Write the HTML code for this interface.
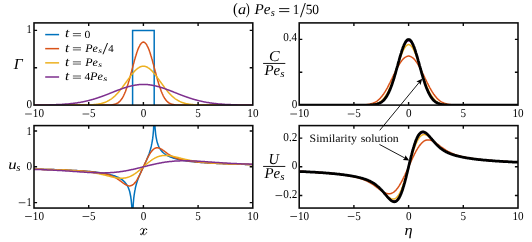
<!DOCTYPE html>
<html><head><meta charset="utf-8"><title>fig</title><style>html,body{margin:0;padding:0;background:#fff;}svg{display:block;will-change:transform;}text{font-family:"Liberation Serif",serif;text-rendering:geometricPrecision;}</style></head><body>
<svg width="532" height="242" viewBox="0 0 532 242">
<defs>
<clipPath id="c0"><rect x="34.0" y="22.9" width="218.80" height="82.20"/></clipPath>
<clipPath id="c1"><rect x="299.2" y="22.9" width="218.80" height="82.20"/></clipPath>
<clipPath id="c2"><rect x="34.0" y="125.6" width="218.80" height="82.45"/></clipPath>
<clipPath id="c3"><rect x="299.2" y="125.6" width="218.80" height="82.45"/></clipPath>
</defs>
<rect width="532" height="242" fill="#fff"/>
<g clip-path="url(#c0)" fill="none" stroke-linejoin="round">
<path d="M132.6,105.1L132.6,30.4L154.2,30.4L154.2,105.1" stroke="#0072BD" stroke-width="1.5" stroke-linejoin="miter"/>
<path d="M34,105.1L34.4,105.1L34.9,105.1L35.3,105.1L35.8,105.1L36.2,105.1L36.6,105.1L37.1,105.1L37.5,105.1L37.9,105.1L38.4,105.1L38.8,105.1L39.3,105.1L39.7,105.1L40.1,105.1L40.6,105.1L41,105.1L41.4,105.1L41.9,105.1L42.3,105.1L42.8,105.1L43.2,105.1L43.6,105.1L44.1,105.1L44.5,105.1L44.9,105.1L45.4,105.1L45.8,105.1L46.3,105.1L46.7,105.1L47.1,105.1L47.6,105.1L48,105.1L48.4,105.1L48.9,105.1L49.3,105.1L49.8,105.1L50.2,105.1L50.6,105.1L51.1,105.1L51.5,105.1L51.9,105.1L52.4,105.1L52.8,105.1L53.3,105.1L53.7,105.1L54.1,105.1L54.6,105.1L55,105.1L55.4,105.1L55.9,105.1L56.3,105.1L56.8,105.1L57.2,105.1L57.6,105.1L58.1,105.1L58.5,105.1L58.9,105.1L59.4,105.1L59.8,105.1L60.3,105.1L60.7,105.1L61.1,105.1L61.6,105.1L62,105.1L62.4,105.1L62.9,105.1L63.3,105.1L63.8,105.1L64.2,105.1L64.6,105.1L65.1,105.1L65.5,105.1L65.9,105.1L66.4,105.1L66.8,105.1L67.3,105.1L67.7,105.1L68.1,105.1L68.6,105.1L69,105.1L69.4,105.1L69.9,105.1L70.3,105.1L70.8,105.1L71.2,105.1L71.6,105.1L72.1,105.1L72.5,105.1L72.9,105.1L73.4,105.1L73.8,105.1L74.3,105.1L74.7,105.1L75.1,105.1L75.6,105.1L76,105.1L76.4,105.1L76.9,105.1L77.3,105.1L77.8,105.1L78.2,105.1L78.6,105.1L79.1,105.1L79.5,105.1L79.9,105.1L80.4,105.1L80.8,105.1L81.3,105.1L81.7,105.1L82.1,105.1L82.6,105.1L83,105.1L83.4,105.1L83.9,105.1L84.3,105.1L84.8,105.1L85.2,105.1L85.6,105.1L86.1,105.1L86.5,105.1L86.9,105.1L87.4,105.1L87.8,105.1L88.3,105.1L88.7,105.1L89.1,105.1L89.6,105.1L90,105.1L90.5,105.1L90.9,105.1L91.3,105.1L91.8,105.1L92.2,105.1L92.6,105.1L93.1,105.1L93.5,105.1L94,105.1L94.4,105.1L94.8,105.1L95.3,105.1L95.7,105.1L96.1,105.1L96.6,105.1L97,105.1L97.5,105.1L97.9,105.1L98.3,105.1L98.8,105.1L99.2,105.1L99.6,105.1L100.1,105.1L100.5,105.1L101,105.1L101.4,105.1L101.8,105.1L102.3,105.1L102.7,105.1L103.1,105.1L103.6,105.1L104,105.1L104.5,105.1L104.9,105.1L105.3,105.1L105.8,105.1L106.2,105.1L106.6,105.1L107.1,105.1L107.5,105.1L108,105L108.4,105L108.8,105L109.3,105L109.7,105L110.1,105L110.6,104.9L111,104.9L111.5,104.9L111.9,104.8L112.3,104.8L112.8,104.7L113.2,104.6L113.6,104.5L114.1,104.4L114.5,104.3L115,104.2L115.4,104.1L115.8,103.9L116.3,103.7L116.7,103.5L117.1,103.3L117.6,103.1L118,102.8L118.5,102.5L118.9,102.1L119.3,101.7L119.8,101.3L120.2,100.9L120.6,100.4L121.1,99.8L121.5,99.2L122,98.6L122.4,97.9L122.8,97.1L123.3,96.3L123.7,95.5L124.1,94.5L124.6,93.6L125,92.5L125.5,91.5L125.9,90.3L126.3,89.1L126.8,87.8L127.2,86.5L127.6,85.2L128.1,83.8L128.5,82.3L129,80.8L129.4,79.3L129.8,77.7L130.3,76.1L130.7,74.5L131.1,72.9L131.6,71.2L132,69.6L132.5,67.9L132.9,66.3L133.3,64.6L133.8,63L134.2,61.4L134.6,59.8L135.1,58.3L135.5,56.8L136,55.3L136.4,54L136.8,52.6L137.3,51.3L137.7,50.1L138.1,49L138.6,47.9L139,47L139.5,46.1L139.9,45.2L140.3,44.5L140.8,43.9L141.2,43.4L141.6,42.9L142.1,42.6L142.5,42.3L143,42.2L143.4,42.1L143.8,42.2L144.3,42.3L144.7,42.6L145.2,42.9L145.6,43.4L146,43.9L146.5,44.5L146.9,45.2L147.3,46.1L147.8,47L148.2,47.9L148.7,49L149.1,50.1L149.5,51.3L150,52.6L150.4,54L150.8,55.3L151.3,56.8L151.7,58.3L152.2,59.8L152.6,61.4L153,63L153.5,64.6L153.9,66.3L154.3,67.9L154.8,69.6L155.2,71.2L155.7,72.9L156.1,74.5L156.5,76.1L157,77.7L157.4,79.3L157.8,80.8L158.3,82.3L158.7,83.8L159.2,85.2L159.6,86.5L160,87.8L160.5,89.1L160.9,90.3L161.3,91.5L161.8,92.5L162.2,93.6L162.7,94.5L163.1,95.5L163.5,96.3L164,97.1L164.4,97.9L164.8,98.6L165.3,99.2L165.7,99.8L166.2,100.4L166.6,100.9L167,101.3L167.5,101.7L167.9,102.1L168.3,102.5L168.8,102.8L169.2,103.1L169.7,103.3L170.1,103.5L170.5,103.7L171,103.9L171.4,104.1L171.8,104.2L172.3,104.3L172.7,104.4L173.2,104.5L173.6,104.6L174,104.7L174.5,104.8L174.9,104.8L175.3,104.9L175.8,104.9L176.2,104.9L176.7,105L177.1,105L177.5,105L178,105L178.4,105L178.8,105L179.3,105.1L179.7,105.1L180.2,105.1L180.6,105.1L181,105.1L181.5,105.1L181.9,105.1L182.3,105.1L182.8,105.1L183.2,105.1L183.7,105.1L184.1,105.1L184.5,105.1L185,105.1L185.4,105.1L185.8,105.1L186.3,105.1L186.7,105.1L187.2,105.1L187.6,105.1L188,105.1L188.5,105.1L188.9,105.1L189.3,105.1L189.8,105.1L190.2,105.1L190.7,105.1L191.1,105.1L191.5,105.1L192,105.1L192.4,105.1L192.8,105.1L193.3,105.1L193.7,105.1L194.2,105.1L194.6,105.1L195,105.1L195.5,105.1L195.9,105.1L196.3,105.1L196.8,105.1L197.2,105.1L197.7,105.1L198.1,105.1L198.5,105.1L199,105.1L199.4,105.1L199.9,105.1L200.3,105.1L200.7,105.1L201.2,105.1L201.6,105.1L202,105.1L202.5,105.1L202.9,105.1L203.4,105.1L203.8,105.1L204.2,105.1L204.7,105.1L205.1,105.1L205.5,105.1L206,105.1L206.4,105.1L206.9,105.1L207.3,105.1L207.7,105.1L208.2,105.1L208.6,105.1L209,105.1L209.5,105.1L209.9,105.1L210.4,105.1L210.8,105.1L211.2,105.1L211.7,105.1L212.1,105.1L212.5,105.1L213,105.1L213.4,105.1L213.9,105.1L214.3,105.1L214.7,105.1L215.2,105.1L215.6,105.1L216,105.1L216.5,105.1L216.9,105.1L217.4,105.1L217.8,105.1L218.2,105.1L218.7,105.1L219.1,105.1L219.5,105.1L220,105.1L220.4,105.1L220.9,105.1L221.3,105.1L221.7,105.1L222.2,105.1L222.6,105.1L223,105.1L223.5,105.1L223.9,105.1L224.4,105.1L224.8,105.1L225.2,105.1L225.7,105.1L226.1,105.1L226.5,105.1L227,105.1L227.4,105.1L227.9,105.1L228.3,105.1L228.7,105.1L229.2,105.1L229.6,105.1L230,105.1L230.5,105.1L230.9,105.1L231.4,105.1L231.8,105.1L232.2,105.1L232.7,105.1L233.1,105.1L233.5,105.1L234,105.1L234.4,105.1L234.9,105.1L235.3,105.1L235.7,105.1L236.2,105.1L236.6,105.1L237,105.1L237.5,105.1L237.9,105.1L238.4,105.1L238.8,105.1L239.2,105.1L239.7,105.1L240.1,105.1L240.5,105.1L241,105.1L241.4,105.1L241.9,105.1L242.3,105.1L242.7,105.1L243.2,105.1L243.6,105.1L244,105.1L244.5,105.1L244.9,105.1L245.4,105.1L245.8,105.1L246.2,105.1L246.7,105.1L247.1,105.1L247.5,105.1L248,105.1L248.4,105.1L248.9,105.1L249.3,105.1L249.7,105.1L250.2,105.1L250.6,105.1L251,105.1L251.5,105.1L251.9,105.1L252.4,105.1L252.8,105.1" stroke="#D95319" stroke-width="1.5"/>
<path d="M34,105.1L34.4,105.1L34.9,105.1L35.3,105.1L35.8,105.1L36.2,105.1L36.6,105.1L37.1,105.1L37.5,105.1L37.9,105.1L38.4,105.1L38.8,105.1L39.3,105.1L39.7,105.1L40.1,105.1L40.6,105.1L41,105.1L41.4,105.1L41.9,105.1L42.3,105.1L42.8,105.1L43.2,105.1L43.6,105.1L44.1,105.1L44.5,105.1L44.9,105.1L45.4,105.1L45.8,105.1L46.3,105.1L46.7,105.1L47.1,105.1L47.6,105.1L48,105.1L48.4,105.1L48.9,105.1L49.3,105.1L49.8,105.1L50.2,105.1L50.6,105.1L51.1,105.1L51.5,105.1L51.9,105.1L52.4,105.1L52.8,105.1L53.3,105.1L53.7,105.1L54.1,105.1L54.6,105.1L55,105.1L55.4,105.1L55.9,105.1L56.3,105.1L56.8,105.1L57.2,105.1L57.6,105.1L58.1,105.1L58.5,105.1L58.9,105.1L59.4,105.1L59.8,105.1L60.3,105.1L60.7,105.1L61.1,105.1L61.6,105.1L62,105.1L62.4,105.1L62.9,105.1L63.3,105.1L63.8,105.1L64.2,105.1L64.6,105.1L65.1,105.1L65.5,105.1L65.9,105.1L66.4,105.1L66.8,105.1L67.3,105.1L67.7,105.1L68.1,105.1L68.6,105.1L69,105.1L69.4,105.1L69.9,105.1L70.3,105.1L70.8,105.1L71.2,105.1L71.6,105.1L72.1,105.1L72.5,105.1L72.9,105.1L73.4,105.1L73.8,105.1L74.3,105.1L74.7,105.1L75.1,105.1L75.6,105.1L76,105.1L76.4,105.1L76.9,105.1L77.3,105.1L77.8,105.1L78.2,105.1L78.6,105.1L79.1,105.1L79.5,105.1L79.9,105.1L80.4,105.1L80.8,105.1L81.3,105.1L81.7,105.1L82.1,105.1L82.6,105.1L83,105L83.4,105L83.9,105L84.3,105L84.8,105L85.2,105L85.6,105L86.1,105L86.5,105L86.9,105L87.4,105L87.8,105L88.3,104.9L88.7,104.9L89.1,104.9L89.6,104.9L90,104.9L90.5,104.9L90.9,104.8L91.3,104.8L91.8,104.8L92.2,104.8L92.6,104.7L93.1,104.7L93.5,104.7L94,104.6L94.4,104.6L94.8,104.5L95.3,104.5L95.7,104.5L96.1,104.4L96.6,104.3L97,104.3L97.5,104.2L97.9,104.2L98.3,104.1L98.8,104L99.2,103.9L99.6,103.8L100.1,103.8L100.5,103.7L101,103.6L101.4,103.5L101.8,103.3L102.3,103.2L102.7,103.1L103.1,103L103.6,102.8L104,102.7L104.5,102.5L104.9,102.4L105.3,102.2L105.8,102L106.2,101.8L106.6,101.6L107.1,101.4L107.5,101.2L108,101L108.4,100.7L108.8,100.5L109.3,100.2L109.7,100L110.1,99.7L110.6,99.4L111,99.1L111.5,98.8L111.9,98.5L112.3,98.1L112.8,97.8L113.2,97.4L113.6,97.1L114.1,96.7L114.5,96.3L115,95.9L115.4,95.5L115.8,95L116.3,94.6L116.7,94.1L117.1,93.7L117.6,93.2L118,92.7L118.5,92.2L118.9,91.7L119.3,91.2L119.8,90.7L120.2,90.1L120.6,89.6L121.1,89L121.5,88.5L122,87.9L122.4,87.3L122.8,86.7L123.3,86.1L123.7,85.5L124.1,84.9L124.6,84.3L125,83.7L125.5,83.1L125.9,82.5L126.3,81.9L126.8,81.2L127.2,80.6L127.6,80L128.1,79.4L128.5,78.8L129,78.2L129.4,77.6L129.8,77L130.3,76.4L130.7,75.8L131.1,75.3L131.6,74.7L132,74.2L132.5,73.6L132.9,73.1L133.3,72.6L133.8,72.1L134.2,71.6L134.6,71.1L135.1,70.7L135.5,70.2L136,69.8L136.4,69.4L136.8,69.1L137.3,68.7L137.7,68.4L138.1,68.1L138.6,67.8L139,67.5L139.5,67.3L139.9,67L140.3,66.8L140.8,66.7L141.2,66.5L141.6,66.4L142.1,66.3L142.5,66.3L143,66.2L143.4,66.2L143.8,66.2L144.3,66.3L144.7,66.3L145.2,66.4L145.6,66.5L146,66.7L146.5,66.8L146.9,67L147.3,67.3L147.8,67.5L148.2,67.8L148.7,68.1L149.1,68.4L149.5,68.7L150,69.1L150.4,69.4L150.8,69.8L151.3,70.2L151.7,70.7L152.2,71.1L152.6,71.6L153,72.1L153.5,72.6L153.9,73.1L154.3,73.6L154.8,74.2L155.2,74.7L155.7,75.3L156.1,75.8L156.5,76.4L157,77L157.4,77.6L157.8,78.2L158.3,78.8L158.7,79.4L159.2,80L159.6,80.6L160,81.2L160.5,81.9L160.9,82.5L161.3,83.1L161.8,83.7L162.2,84.3L162.7,84.9L163.1,85.5L163.5,86.1L164,86.7L164.4,87.3L164.8,87.9L165.3,88.5L165.7,89L166.2,89.6L166.6,90.1L167,90.7L167.5,91.2L167.9,91.7L168.3,92.2L168.8,92.7L169.2,93.2L169.7,93.7L170.1,94.1L170.5,94.6L171,95L171.4,95.5L171.8,95.9L172.3,96.3L172.7,96.7L173.2,97.1L173.6,97.4L174,97.8L174.5,98.1L174.9,98.5L175.3,98.8L175.8,99.1L176.2,99.4L176.7,99.7L177.1,100L177.5,100.2L178,100.5L178.4,100.7L178.8,101L179.3,101.2L179.7,101.4L180.2,101.6L180.6,101.8L181,102L181.5,102.2L181.9,102.4L182.3,102.5L182.8,102.7L183.2,102.8L183.7,103L184.1,103.1L184.5,103.2L185,103.3L185.4,103.5L185.8,103.6L186.3,103.7L186.7,103.8L187.2,103.8L187.6,103.9L188,104L188.5,104.1L188.9,104.2L189.3,104.2L189.8,104.3L190.2,104.3L190.7,104.4L191.1,104.5L191.5,104.5L192,104.5L192.4,104.6L192.8,104.6L193.3,104.7L193.7,104.7L194.2,104.7L194.6,104.8L195,104.8L195.5,104.8L195.9,104.8L196.3,104.9L196.8,104.9L197.2,104.9L197.7,104.9L198.1,104.9L198.5,104.9L199,105L199.4,105L199.9,105L200.3,105L200.7,105L201.2,105L201.6,105L202,105L202.5,105L202.9,105L203.4,105L203.8,105L204.2,105.1L204.7,105.1L205.1,105.1L205.5,105.1L206,105.1L206.4,105.1L206.9,105.1L207.3,105.1L207.7,105.1L208.2,105.1L208.6,105.1L209,105.1L209.5,105.1L209.9,105.1L210.4,105.1L210.8,105.1L211.2,105.1L211.7,105.1L212.1,105.1L212.5,105.1L213,105.1L213.4,105.1L213.9,105.1L214.3,105.1L214.7,105.1L215.2,105.1L215.6,105.1L216,105.1L216.5,105.1L216.9,105.1L217.4,105.1L217.8,105.1L218.2,105.1L218.7,105.1L219.1,105.1L219.5,105.1L220,105.1L220.4,105.1L220.9,105.1L221.3,105.1L221.7,105.1L222.2,105.1L222.6,105.1L223,105.1L223.5,105.1L223.9,105.1L224.4,105.1L224.8,105.1L225.2,105.1L225.7,105.1L226.1,105.1L226.5,105.1L227,105.1L227.4,105.1L227.9,105.1L228.3,105.1L228.7,105.1L229.2,105.1L229.6,105.1L230,105.1L230.5,105.1L230.9,105.1L231.4,105.1L231.8,105.1L232.2,105.1L232.7,105.1L233.1,105.1L233.5,105.1L234,105.1L234.4,105.1L234.9,105.1L235.3,105.1L235.7,105.1L236.2,105.1L236.6,105.1L237,105.1L237.5,105.1L237.9,105.1L238.4,105.1L238.8,105.1L239.2,105.1L239.7,105.1L240.1,105.1L240.5,105.1L241,105.1L241.4,105.1L241.9,105.1L242.3,105.1L242.7,105.1L243.2,105.1L243.6,105.1L244,105.1L244.5,105.1L244.9,105.1L245.4,105.1L245.8,105.1L246.2,105.1L246.7,105.1L247.1,105.1L247.5,105.1L248,105.1L248.4,105.1L248.9,105.1L249.3,105.1L249.7,105.1L250.2,105.1L250.6,105.1L251,105.1L251.5,105.1L251.9,105.1L252.4,105.1L252.8,105.1" stroke="#EDB120" stroke-width="1.5"/>
<path d="M34,105L34.4,105L34.9,105L35.3,105L35.8,105L36.2,105L36.6,105L37.1,105L37.5,105L37.9,105L38.4,105L38.8,105L39.3,105L39.7,105L40.1,105L40.6,105L41,105L41.4,105L41.9,105L42.3,105L42.8,105L43.2,105L43.6,105L44.1,105L44.5,104.9L44.9,104.9L45.4,104.9L45.8,104.9L46.3,104.9L46.7,104.9L47.1,104.9L47.6,104.9L48,104.9L48.4,104.9L48.9,104.9L49.3,104.9L49.8,104.8L50.2,104.8L50.6,104.8L51.1,104.8L51.5,104.8L51.9,104.8L52.4,104.8L52.8,104.8L53.3,104.7L53.7,104.7L54.1,104.7L54.6,104.7L55,104.7L55.4,104.7L55.9,104.7L56.3,104.6L56.8,104.6L57.2,104.6L57.6,104.6L58.1,104.6L58.5,104.5L58.9,104.5L59.4,104.5L59.8,104.5L60.3,104.5L60.7,104.4L61.1,104.4L61.6,104.4L62,104.4L62.4,104.3L62.9,104.3L63.3,104.3L63.8,104.2L64.2,104.2L64.6,104.2L65.1,104.1L65.5,104.1L65.9,104.1L66.4,104L66.8,104L67.3,104L67.7,103.9L68.1,103.9L68.6,103.9L69,103.8L69.4,103.8L69.9,103.7L70.3,103.7L70.8,103.6L71.2,103.6L71.6,103.5L72.1,103.5L72.5,103.4L72.9,103.4L73.4,103.3L73.8,103.3L74.3,103.2L74.7,103.2L75.1,103.1L75.6,103L76,103L76.4,102.9L76.9,102.9L77.3,102.8L77.8,102.7L78.2,102.6L78.6,102.6L79.1,102.5L79.5,102.4L79.9,102.4L80.4,102.3L80.8,102.2L81.3,102.1L81.7,102L82.1,102L82.6,101.9L83,101.8L83.4,101.7L83.9,101.6L84.3,101.5L84.8,101.4L85.2,101.3L85.6,101.2L86.1,101.1L86.5,101L86.9,100.9L87.4,100.8L87.8,100.7L88.3,100.6L88.7,100.5L89.1,100.4L89.6,100.3L90,100.1L90.5,100L90.9,99.9L91.3,99.8L91.8,99.7L92.2,99.5L92.6,99.4L93.1,99.3L93.5,99.2L94,99L94.4,98.9L94.8,98.8L95.3,98.6L95.7,98.5L96.1,98.4L96.6,98.2L97,98.1L97.5,97.9L97.9,97.8L98.3,97.6L98.8,97.5L99.2,97.3L99.6,97.2L100.1,97L100.5,96.9L101,96.7L101.4,96.6L101.8,96.4L102.3,96.3L102.7,96.1L103.1,95.9L103.6,95.8L104,95.6L104.5,95.4L104.9,95.3L105.3,95.1L105.8,94.9L106.2,94.8L106.6,94.6L107.1,94.4L107.5,94.3L108,94.1L108.4,93.9L108.8,93.8L109.3,93.6L109.7,93.4L110.1,93.2L110.6,93.1L111,92.9L111.5,92.7L111.9,92.5L112.3,92.4L112.8,92.2L113.2,92L113.6,91.8L114.1,91.7L114.5,91.5L115,91.3L115.4,91.2L115.8,91L116.3,90.8L116.7,90.6L117.1,90.5L117.6,90.3L118,90.1L118.5,90L118.9,89.8L119.3,89.7L119.8,89.5L120.2,89.3L120.6,89.2L121.1,89L121.5,88.9L122,88.7L122.4,88.5L122.8,88.4L123.3,88.2L123.7,88.1L124.1,88L124.6,87.8L125,87.7L125.5,87.5L125.9,87.4L126.3,87.3L126.8,87.1L127.2,87L127.6,86.9L128.1,86.7L128.5,86.6L129,86.5L129.4,86.4L129.8,86.3L130.3,86.2L130.7,86.1L131.1,85.9L131.6,85.8L132,85.7L132.5,85.7L132.9,85.6L133.3,85.5L133.8,85.4L134.2,85.3L134.6,85.2L135.1,85.2L135.5,85.1L136,85L136.4,85L136.8,84.9L137.3,84.8L137.7,84.8L138.1,84.7L138.6,84.7L139,84.6L139.5,84.6L139.9,84.6L140.3,84.5L140.8,84.5L141.2,84.5L141.6,84.5L142.1,84.5L142.5,84.5L143,84.5L143.4,84.5L143.8,84.5L144.3,84.5L144.7,84.5L145.2,84.5L145.6,84.5L146,84.5L146.5,84.5L146.9,84.6L147.3,84.6L147.8,84.6L148.2,84.7L148.7,84.7L149.1,84.8L149.5,84.8L150,84.9L150.4,85L150.8,85L151.3,85.1L151.7,85.2L152.2,85.2L152.6,85.3L153,85.4L153.5,85.5L153.9,85.6L154.3,85.7L154.8,85.7L155.2,85.8L155.7,85.9L156.1,86.1L156.5,86.2L157,86.3L157.4,86.4L157.8,86.5L158.3,86.6L158.7,86.7L159.2,86.9L159.6,87L160,87.1L160.5,87.3L160.9,87.4L161.3,87.5L161.8,87.7L162.2,87.8L162.7,88L163.1,88.1L163.5,88.2L164,88.4L164.4,88.5L164.8,88.7L165.3,88.9L165.7,89L166.2,89.2L166.6,89.3L167,89.5L167.5,89.7L167.9,89.8L168.3,90L168.8,90.1L169.2,90.3L169.7,90.5L170.1,90.6L170.5,90.8L171,91L171.4,91.2L171.8,91.3L172.3,91.5L172.7,91.7L173.2,91.8L173.6,92L174,92.2L174.5,92.4L174.9,92.5L175.3,92.7L175.8,92.9L176.2,93.1L176.7,93.2L177.1,93.4L177.5,93.6L178,93.8L178.4,93.9L178.8,94.1L179.3,94.3L179.7,94.4L180.2,94.6L180.6,94.8L181,94.9L181.5,95.1L181.9,95.3L182.3,95.4L182.8,95.6L183.2,95.8L183.7,95.9L184.1,96.1L184.5,96.3L185,96.4L185.4,96.6L185.8,96.7L186.3,96.9L186.7,97L187.2,97.2L187.6,97.3L188,97.5L188.5,97.6L188.9,97.8L189.3,97.9L189.8,98.1L190.2,98.2L190.7,98.4L191.1,98.5L191.5,98.6L192,98.8L192.4,98.9L192.8,99L193.3,99.2L193.7,99.3L194.2,99.4L194.6,99.5L195,99.7L195.5,99.8L195.9,99.9L196.3,100L196.8,100.1L197.2,100.3L197.7,100.4L198.1,100.5L198.5,100.6L199,100.7L199.4,100.8L199.9,100.9L200.3,101L200.7,101.1L201.2,101.2L201.6,101.3L202,101.4L202.5,101.5L202.9,101.6L203.4,101.7L203.8,101.8L204.2,101.9L204.7,102L205.1,102L205.5,102.1L206,102.2L206.4,102.3L206.9,102.4L207.3,102.4L207.7,102.5L208.2,102.6L208.6,102.6L209,102.7L209.5,102.8L209.9,102.9L210.4,102.9L210.8,103L211.2,103L211.7,103.1L212.1,103.2L212.5,103.2L213,103.3L213.4,103.3L213.9,103.4L214.3,103.4L214.7,103.5L215.2,103.5L215.6,103.6L216,103.6L216.5,103.7L216.9,103.7L217.4,103.8L217.8,103.8L218.2,103.9L218.7,103.9L219.1,103.9L219.5,104L220,104L220.4,104L220.9,104.1L221.3,104.1L221.7,104.1L222.2,104.2L222.6,104.2L223,104.2L223.5,104.3L223.9,104.3L224.4,104.3L224.8,104.4L225.2,104.4L225.7,104.4L226.1,104.4L226.5,104.5L227,104.5L227.4,104.5L227.9,104.5L228.3,104.5L228.7,104.6L229.2,104.6L229.6,104.6L230,104.6L230.5,104.6L230.9,104.7L231.4,104.7L231.8,104.7L232.2,104.7L232.7,104.7L233.1,104.7L233.5,104.7L234,104.8L234.4,104.8L234.9,104.8L235.3,104.8L235.7,104.8L236.2,104.8L236.6,104.8L237,104.8L237.5,104.9L237.9,104.9L238.4,104.9L238.8,104.9L239.2,104.9L239.7,104.9L240.1,104.9L240.5,104.9L241,104.9L241.4,104.9L241.9,104.9L242.3,104.9L242.7,105L243.2,105L243.6,105L244,105L244.5,105L244.9,105L245.4,105L245.8,105L246.2,105L246.7,105L247.1,105L247.5,105L248,105L248.4,105L248.9,105L249.3,105L249.7,105L250.2,105L250.6,105L251,105L251.5,105L251.9,105L252.4,105L252.8,105" stroke="#7E2F8E" stroke-width="1.5"/>
</g>
<g clip-path="url(#c2)" fill="none" stroke-linejoin="round">
<path d="M34,169.1L34.6,169.1L35.2,169.1L35.8,169.2L36.4,169.2L37,169.2L37.6,169.2L38.2,169.2L38.8,169.2L39.4,169.2L40,169.2L40.6,169.3L41.2,169.3L41.8,169.3L42.4,169.3L43,169.3L43.6,169.3L44.2,169.4L44.8,169.4L45.4,169.4L46,169.4L46.6,169.4L47.2,169.4L47.8,169.4L48.4,169.5L49,169.5L49.6,169.5L50.2,169.5L50.8,169.5L51.4,169.6L52,169.6L52.6,169.6L53.2,169.6L53.8,169.6L54.4,169.6L55,169.7L55.5,169.7L56.1,169.7L56.7,169.7L57.3,169.7L57.9,169.8L58.5,169.8L59.1,169.8L59.7,169.8L60.3,169.8L60.9,169.9L61.5,169.9L62.1,169.9L62.7,169.9L63.3,170L63.9,170L64.5,170L65.1,170L65.7,170.1L66.3,170.1L66.9,170.1L67.5,170.1L68.1,170.2L68.7,170.2L69.3,170.2L69.9,170.2L70.5,170.3L71.1,170.3L71.7,170.3L72.3,170.4L72.9,170.4L73.5,170.4L74.1,170.5L74.7,170.5L75.3,170.5L75.9,170.6L76.5,170.6L77.1,170.6L77.7,170.7L78.3,170.7L78.9,170.7L79.5,170.8L80.1,170.8L80.7,170.8L81.3,170.9L81.9,170.9L82.5,171L83.1,171L83.7,171.1L84.3,171.1L84.9,171.1L85.5,171.2L86.1,171.2L86.7,171.3L87.3,171.3L87.9,171.4L88.5,171.4L89.1,171.5L89.7,171.5L90.3,171.6L90.9,171.6L91.5,171.7L92.1,171.8L92.7,171.8L93.3,171.9L93.9,171.9L94.5,172L95.1,172.1L95.7,172.1L96.3,172.2L96.9,172.3L97.5,172.4L98.1,172.4L98.6,172.5L99.2,172.6L99.8,172.7L100.4,172.8L101,172.9L101.6,172.9L102.2,173L102.8,173.1L103.4,173.2L104,173.3L104.6,173.4L105.2,173.6L105.8,173.7L106.4,173.8L107,173.9L107.6,174L108.2,174.2L108.8,174.3L109.4,174.4L110,174.6L110.6,174.7L111.2,174.9L111.8,175.1L112.4,175.2L113,175.4L113.6,175.6L114.2,175.8L114.8,176L115.4,176.2L116,176.5L116.6,176.7L117.2,177L117.8,177.2L118.4,177.5L119,177.8L119.6,178.2L120.2,178.5L120.8,178.9L121.4,179.3L122,179.7L122.6,180.2L123.2,180.7L123.8,181.2L124.4,181.8L125,182.4L125.6,183.2L126.2,184L126.8,184.9L127.4,185.9L128,187L128.6,188.4L129.2,190.1L129.5,191L129.8,192L130,193L130.2,194L130.4,195L130.6,196L130.8,197L130.9,198.1L131.1,199.1L131.2,200.1L131.3,201.2L131.4,202.2L131.5,203.3L131.6,204.4L131.7,205.4L131.8,206.5L131.8,207.6L131.9,208.6L131.9,209.7L132,210.8L132,211.9L132.1,212.9L132.1,214L132.1,215.1L132.2,216.2L132.2,217.3L132.2,218.4L132.2,219.5L132.3,220.6L132.3,221.7L132.3,222.8L132.3,223.8L132.3,224.9L132.3,226L132.3,227.1L132.4,228.2L132.4,229.3L132.4,230.4L132.4,231.5L132.4,232.6L132.4,233.7L132.4,234.8L132.4,235.9L132.4,237L132.4,238.1L132.4,239.2L132.4,240.3L132.4,241.4L132.4,242.5L132.4,243.6L132.4,244.7L132.4,245.8L132.4,246.9L132.4,248.1L132.4,249.2L132.4,250.3L132.4,251.4L132.4,252.5L132.4,253.6L132.5,253.6L132.5,252.4L132.5,251.3L132.5,250.2L132.5,249.1L132.5,248L132.5,246.9L132.5,245.8L132.5,244.7L132.5,243.6L132.5,242.5L132.5,241.4L132.5,240.3L132.5,239.2L132.5,238.1L132.5,237L132.5,235.9L132.5,234.8L132.5,233.7L132.5,232.6L132.5,231.5L132.5,230.3L132.6,229.2L132.6,228.1L132.6,227L132.6,225.9L132.6,224.8L132.6,223.7L132.6,222.6L132.6,221.5L132.7,220.4L132.7,219.2L132.7,218.1L132.7,217L132.8,215.9L132.8,214.8L132.8,213.7L132.9,212.5L132.9,211.4L132.9,210.3L133,209.2L133,208L133.1,206.9L133.2,205.8L133.2,204.6L133.3,203.5L133.4,202.3L133.5,201.2L133.6,200L133.7,198.8L133.8,197.7L134,196.5L134.1,195.3L134.3,194.1L134.5,192.9L134.7,191.7L134.9,190.4L135.2,189.2L135.4,187.9L135.7,186.6L136.3,184.3L136.9,182.3L137.5,180.5L138.1,178.8L138.7,177.2L139.3,175.7L139.9,174.3L140.5,173L141.1,171.6L141.7,170.3L142.3,169.1L142.9,167.8L143.4,166.8L143.9,165.8L144.5,164.6L145.1,163.3L145.7,162L146.3,160.7L146.9,159.3L147.5,157.9L148.1,156.4L148.7,154.9L149.3,153.2L149.9,151.3L150.5,149.3L151.1,147L151.4,145.7L151.6,144.5L151.9,143.2L152.1,142L152.3,140.8L152.5,139.6L152.7,138.4L152.8,137.2L153,136L153.1,134.8L153.2,133.6L153.3,132.5L153.4,131.3L153.5,130.2L153.6,129L153.6,127.9L153.7,126.8L153.8,125.6L153.8,124.5L153.9,123.4L153.9,122.2L153.9,121.1L154,120L154,118.9L154,117.8L154.1,116.6L154.1,115.5L154.1,114.4L154.1,113.3L154.2,112.2L154.2,111.1L154.2,110L154.2,108.8L154.2,107.7L154.2,106.6L154.2,105.5L154.2,104.4L154.3,103.3L154.3,102.2L154.3,101.1L154.3,100L154.3,98.9L154.3,97.8L154.3,96.7L154.3,95.6L154.3,94.5L154.3,93.3L154.3,92.2L154.3,91.1L154.3,90L154.3,88.9L154.3,87.8L154.3,86.7L154.3,85.6L154.3,84.5L154.3,83.4L154.3,82.3L154.3,81.2L154.3,80.1L154.4,80.1L154.4,81.2L154.4,82.3L154.4,83.4L154.4,84.5L154.4,85.6L154.4,86.7L154.4,87.8L154.4,88.9L154.4,90L154.4,91.1L154.4,92.2L154.4,93.3L154.4,94.4L154.4,95.5L154.4,96.6L154.4,97.7L154.4,98.8L154.4,99.9L154.4,101L154.4,102.1L154.4,103.2L154.4,104.3L154.4,105.4L154.5,106.5L154.5,107.6L154.5,108.7L154.5,109.8L154.5,110.9L154.5,112L154.5,113.1L154.6,114.2L154.6,115.3L154.6,116.4L154.6,117.4L154.7,118.5L154.7,119.6L154.7,120.7L154.8,121.8L154.8,122.9L154.9,123.9L154.9,125L155,126.1L155,127.2L155.1,128.2L155.2,129.3L155.3,130.4L155.4,131.4L155.5,132.5L155.6,133.5L155.7,134.6L155.9,135.6L156,136.6L156.2,137.6L156.4,138.7L156.6,139.7L156.8,140.7L157,141.6L157.3,142.6L157.6,143.6L158.2,145.2L158.8,146.6L159.4,147.8L160,148.8L160.6,149.7L161.2,150.5L161.8,151.2L162.4,151.9L163,152.5L163.6,153L164.2,153.5L164.8,153.9L165.4,154.4L166,154.8L166.6,155.1L167.2,155.5L167.8,155.8L168.4,156.1L169,156.4L169.6,156.7L170.2,156.9L170.8,157.2L171.4,157.4L172,157.6L172.6,157.8L173.2,158L173.8,158.2L174.4,158.4L175,158.6L175.6,158.7L176.2,158.9L176.8,159.1L177.4,159.2L178,159.3L178.6,159.5L179.2,159.6L179.8,159.7L180.4,159.9L181,160L181.6,160.1L182.2,160.2L182.8,160.3L183.4,160.4L184,160.5L184.6,160.6L185.2,160.7L185.8,160.8L186.4,160.9L187,161L187.6,161.1L188.2,161.1L188.7,161.2L189.3,161.3L189.9,161.4L190.5,161.4L191.1,161.5L191.7,161.6L192.3,161.6L192.9,161.7L193.5,161.8L194.1,161.8L194.7,161.9L195.3,161.9L195.9,162L196.5,162.1L197.1,162.1L197.7,162.2L198.3,162.2L198.9,162.3L199.5,162.3L200.1,162.4L200.7,162.4L201.3,162.5L201.9,162.5L202.5,162.6L203.1,162.6L203.7,162.6L204.3,162.7L204.9,162.7L205.5,162.8L206.1,162.8L206.7,162.8L207.3,162.9L207.9,162.9L208.5,163L209.1,163L209.7,163L210.3,163.1L210.9,163.1L211.5,163.1L212.1,163.2L212.7,163.2L213.3,163.2L213.9,163.3L214.5,163.3L215.1,163.3L215.7,163.3L216.3,163.4L216.9,163.4L217.5,163.4L218.1,163.5L218.7,163.5L219.3,163.5L219.9,163.5L220.5,163.6L221.1,163.6L221.7,163.6L222.3,163.6L222.9,163.7L223.5,163.7L224.1,163.7L224.7,163.7L225.3,163.8L225.9,163.8L226.5,163.8L227.1,163.8L227.7,163.8L228.3,163.9L228.9,163.9L229.5,163.9L230.1,163.9L230.7,163.9L231.3,164L231.8,164L232.4,164L233,164L233.6,164L234.2,164.1L234.8,164.1L235.4,164.1L236,164.1L236.6,164.1L237.2,164.2L237.8,164.2L238.4,164.2L239,164.2L239.6,164.2L240.2,164.2L240.8,164.3L241.4,164.3L242,164.3L242.6,164.3L243.2,164.3L243.8,164.3L244.4,164.3L245,164.4L245.6,164.4L246.2,164.4L246.8,164.4L247.4,164.4L248,164.4L248.6,164.4L249.2,164.5L249.8,164.5L250.4,164.5L251,164.5L251.6,164.5L252.2,164.5L252.8,164.5" stroke="#0072BD" stroke-width="1.5"/>
<path d="M34,169.1L34.4,169.1L34.9,169.1L35.3,169.2L35.8,169.2L36.2,169.2L36.6,169.2L37.1,169.2L37.5,169.2L37.9,169.2L38.4,169.2L38.8,169.2L39.3,169.2L39.7,169.3L40.1,169.3L40.6,169.3L41,169.3L41.4,169.3L41.9,169.3L42.3,169.3L42.8,169.3L43.2,169.3L43.6,169.4L44.1,169.4L44.5,169.4L44.9,169.4L45.4,169.4L45.8,169.4L46.3,169.4L46.7,169.4L47.1,169.4L47.6,169.5L48,169.5L48.4,169.5L48.9,169.5L49.3,169.5L49.8,169.5L50.2,169.5L50.6,169.5L51.1,169.6L51.5,169.6L51.9,169.6L52.4,169.6L52.8,169.6L53.3,169.6L53.7,169.6L54.1,169.7L54.6,169.7L55,169.7L55.4,169.7L55.9,169.7L56.3,169.7L56.8,169.7L57.2,169.8L57.6,169.8L58.1,169.8L58.5,169.8L58.9,169.8L59.4,169.8L59.8,169.9L60.3,169.9L60.7,169.9L61.1,169.9L61.6,169.9L62,169.9L62.4,170L62.9,170L63.3,170L63.8,170L64.2,170L64.6,170L65.1,170.1L65.5,170.1L65.9,170.1L66.4,170.1L66.8,170.1L67.3,170.2L67.7,170.2L68.1,170.2L68.6,170.2L69,170.2L69.4,170.3L69.9,170.3L70.3,170.3L70.8,170.3L71.2,170.4L71.6,170.4L72.1,170.4L72.5,170.4L72.9,170.4L73.4,170.5L73.8,170.5L74.3,170.5L74.7,170.5L75.1,170.6L75.6,170.6L76,170.6L76.4,170.6L76.9,170.7L77.3,170.7L77.8,170.7L78.2,170.8L78.6,170.8L79.1,170.8L79.5,170.8L79.9,170.9L80.4,170.9L80.8,170.9L81.3,171L81.7,171L82.1,171L82.6,171L83,171.1L83.4,171.1L83.9,171.1L84.3,171.2L84.8,171.2L85.2,171.3L85.6,171.3L86.1,171.3L86.5,171.4L86.9,171.4L87.4,171.4L87.8,171.5L88.3,171.5L88.7,171.6L89.1,171.6L89.6,171.6L90,171.7L90.5,171.7L90.9,171.8L91.3,171.8L91.8,171.9L92.2,171.9L92.6,172L93.1,172L93.5,172.1L94,172.1L94.4,172.2L94.8,172.2L95.3,172.3L95.7,172.3L96.1,172.4L96.6,172.4L97,172.5L97.5,172.6L97.9,172.6L98.3,172.7L98.8,172.8L99.2,172.8L99.6,172.9L100.1,173L100.5,173L101,173.1L101.4,173.2L101.8,173.3L102.3,173.3L102.7,173.4L103.1,173.5L103.6,173.6L104,173.7L104.5,173.8L104.9,173.9L105.3,174L105.8,174.1L106.2,174.2L106.6,174.3L107.1,174.4L107.5,174.5L108,174.6L108.4,174.8L108.8,174.9L109.3,175L109.7,175.2L110.1,175.3L110.6,175.5L111,175.6L111.5,175.8L111.9,176L112.3,176.2L112.8,176.4L113.2,176.6L113.6,176.8L114.1,177L114.5,177.2L115,177.4L115.4,177.7L115.8,177.9L116.3,178.2L116.7,178.4L117.1,178.7L117.6,179L118,179.3L118.5,179.6L118.9,179.9L119.3,180.2L119.8,180.5L120.2,180.8L120.6,181.1L121.1,181.4L121.5,181.8L122,182.1L122.4,182.4L122.8,182.8L123.3,183.1L123.7,183.4L124.1,183.7L124.6,184L125,184.3L125.5,184.5L125.9,184.8L126.3,185L126.8,185.2L127.2,185.4L127.6,185.6L128.1,185.7L128.5,185.8L129,185.9L129.4,185.9L129.8,185.9L130.3,185.8L130.7,185.7L131.1,185.6L131.6,185.5L132,185.2L132.5,185L132.9,184.7L133.3,184.4L133.8,184L134.2,183.5L134.6,183.1L135.1,182.6L135.5,182L136,181.4L136.4,180.8L136.8,180.1L137.3,179.4L137.7,178.6L138.1,177.8L138.6,177L139,176.2L139.5,175.3L139.9,174.5L140.3,173.5L140.8,172.6L141.2,171.7L141.6,170.7L142.1,169.8L142.5,168.8L143,167.8L143.4,166.8L143.8,165.8L144.3,164.9L144.7,163.9L145.2,162.9L145.6,162L146,161L146.5,160.1L146.9,159.2L147.3,158.3L147.8,157.4L148.2,156.6L148.7,155.8L149.1,155L149.5,154.3L150,153.6L150.4,152.9L150.8,152.3L151.3,151.7L151.7,151.1L152.2,150.6L152.6,150.1L153,149.7L153.5,149.3L153.9,149L154.3,148.7L154.8,148.4L155.2,148.2L155.7,148L156.1,147.9L156.5,147.8L157,147.8L157.4,147.8L157.8,147.8L158.3,147.9L158.7,148L159.2,148.1L159.6,148.2L160,148.4L160.5,148.6L160.9,148.9L161.3,149.1L161.8,149.4L162.2,149.7L162.7,150L163.1,150.3L163.5,150.6L164,150.9L164.4,151.2L164.8,151.5L165.3,151.9L165.7,152.2L166.2,152.5L166.6,152.9L167,153.2L167.5,153.5L167.9,153.8L168.3,154.1L168.8,154.4L169.2,154.7L169.7,155L170.1,155.2L170.5,155.5L171,155.8L171.4,156L171.8,156.2L172.3,156.5L172.7,156.7L173.2,156.9L173.6,157.1L174,157.3L174.5,157.5L174.9,157.7L175.3,157.8L175.8,158L176.2,158.2L176.7,158.3L177.1,158.5L177.5,158.6L178,158.7L178.4,158.9L178.8,159L179.3,159.1L179.7,159.2L180.2,159.4L180.6,159.5L181,159.6L181.5,159.7L181.9,159.8L182.3,159.9L182.8,160L183.2,160.1L183.7,160.1L184.1,160.2L184.5,160.3L185,160.4L185.4,160.5L185.8,160.5L186.3,160.6L186.7,160.7L187.2,160.8L187.6,160.8L188,160.9L188.5,161L188.9,161L189.3,161.1L189.8,161.2L190.2,161.2L190.7,161.3L191.1,161.3L191.5,161.4L192,161.4L192.4,161.5L192.8,161.5L193.3,161.6L193.7,161.6L194.2,161.7L194.6,161.7L195,161.8L195.5,161.8L195.9,161.9L196.3,161.9L196.8,162L197.2,162L197.7,162.1L198.1,162.1L198.5,162.1L199,162.2L199.4,162.2L199.9,162.2L200.3,162.3L200.7,162.3L201.2,162.4L201.6,162.4L202,162.4L202.5,162.5L202.9,162.5L203.4,162.5L203.8,162.6L204.2,162.6L204.7,162.6L205.1,162.7L205.5,162.7L206,162.7L206.4,162.8L206.9,162.8L207.3,162.8L207.7,162.8L208.2,162.9L208.6,162.9L209,162.9L209.5,163L209.9,163L210.4,163L210.8,163L211.2,163.1L211.7,163.1L212.1,163.1L212.5,163.1L213,163.2L213.4,163.2L213.9,163.2L214.3,163.2L214.7,163.3L215.2,163.3L215.6,163.3L216,163.3L216.5,163.3L216.9,163.4L217.4,163.4L217.8,163.4L218.2,163.4L218.7,163.4L219.1,163.5L219.5,163.5L220,163.5L220.4,163.5L220.9,163.5L221.3,163.6L221.7,163.6L222.2,163.6L222.6,163.6L223,163.6L223.5,163.7L223.9,163.7L224.4,163.7L224.8,163.7L225.2,163.7L225.7,163.7L226.1,163.8L226.5,163.8L227,163.8L227.4,163.8L227.9,163.8L228.3,163.8L228.7,163.9L229.2,163.9L229.6,163.9L230,163.9L230.5,163.9L230.9,163.9L231.4,163.9L231.8,164L232.2,164L232.7,164L233.1,164L233.5,164L234,164L234.4,164L234.9,164.1L235.3,164.1L235.7,164.1L236.2,164.1L236.6,164.1L237,164.1L237.5,164.1L237.9,164.2L238.4,164.2L238.8,164.2L239.2,164.2L239.7,164.2L240.1,164.2L240.5,164.2L241,164.2L241.4,164.3L241.9,164.3L242.3,164.3L242.7,164.3L243.2,164.3L243.6,164.3L244,164.3L244.5,164.3L244.9,164.3L245.4,164.4L245.8,164.4L246.2,164.4L246.7,164.4L247.1,164.4L247.5,164.4L248,164.4L248.4,164.4L248.9,164.4L249.3,164.4L249.7,164.5L250.2,164.5L250.6,164.5L251,164.5L251.5,164.5L251.9,164.5L252.4,164.5L252.8,164.5" stroke="#D95319" stroke-width="1.5"/>
<path d="M34,169.2L34.4,169.2L34.9,169.2L35.3,169.2L35.8,169.2L36.2,169.2L36.6,169.2L37.1,169.2L37.5,169.2L37.9,169.3L38.4,169.3L38.8,169.3L39.3,169.3L39.7,169.3L40.1,169.3L40.6,169.3L41,169.3L41.4,169.3L41.9,169.4L42.3,169.4L42.8,169.4L43.2,169.4L43.6,169.4L44.1,169.4L44.5,169.4L44.9,169.4L45.4,169.5L45.8,169.5L46.3,169.5L46.7,169.5L47.1,169.5L47.6,169.5L48,169.5L48.4,169.5L48.9,169.6L49.3,169.6L49.8,169.6L50.2,169.6L50.6,169.6L51.1,169.6L51.5,169.6L51.9,169.7L52.4,169.7L52.8,169.7L53.3,169.7L53.7,169.7L54.1,169.7L54.6,169.7L55,169.8L55.4,169.8L55.9,169.8L56.3,169.8L56.8,169.8L57.2,169.8L57.6,169.9L58.1,169.9L58.5,169.9L58.9,169.9L59.4,169.9L59.8,169.9L60.3,170L60.7,170L61.1,170L61.6,170L62,170L62.4,170.1L62.9,170.1L63.3,170.1L63.8,170.1L64.2,170.1L64.6,170.2L65.1,170.2L65.5,170.2L65.9,170.2L66.4,170.2L66.8,170.3L67.3,170.3L67.7,170.3L68.1,170.3L68.6,170.4L69,170.4L69.4,170.4L69.9,170.4L70.3,170.5L70.8,170.5L71.2,170.5L71.6,170.5L72.1,170.6L72.5,170.6L72.9,170.6L73.4,170.6L73.8,170.7L74.3,170.7L74.7,170.7L75.1,170.8L75.6,170.8L76,170.8L76.4,170.9L76.9,170.9L77.3,170.9L77.8,171L78.2,171L78.6,171L79.1,171.1L79.5,171.1L79.9,171.1L80.4,171.2L80.8,171.2L81.3,171.2L81.7,171.3L82.1,171.3L82.6,171.4L83,171.4L83.4,171.4L83.9,171.5L84.3,171.5L84.8,171.6L85.2,171.6L85.6,171.7L86.1,171.7L86.5,171.8L86.9,171.8L87.4,171.9L87.8,171.9L88.3,172L88.7,172L89.1,172.1L89.6,172.2L90,172.2L90.5,172.3L90.9,172.3L91.3,172.4L91.8,172.5L92.2,172.5L92.6,172.6L93.1,172.7L93.5,172.7L94,172.8L94.4,172.9L94.8,173L95.3,173L95.7,173.1L96.1,173.2L96.6,173.3L97,173.4L97.5,173.4L97.9,173.5L98.3,173.6L98.8,173.7L99.2,173.8L99.6,173.9L100.1,174L100.5,174.1L101,174.2L101.4,174.3L101.8,174.4L102.3,174.5L102.7,174.6L103.1,174.7L103.6,174.8L104,174.9L104.5,175L104.9,175.1L105.3,175.2L105.8,175.3L106.2,175.4L106.6,175.6L107.1,175.7L107.5,175.8L108,175.9L108.4,176L108.8,176.1L109.3,176.2L109.7,176.3L110.1,176.4L110.6,176.6L111,176.7L111.5,176.8L111.9,176.9L112.3,177L112.8,177.1L113.2,177.2L113.6,177.3L114.1,177.4L114.5,177.5L115,177.5L115.4,177.6L115.8,177.7L116.3,177.8L116.7,177.8L117.1,177.9L117.6,178L118,178L118.5,178.1L118.9,178.1L119.3,178.2L119.8,178.2L120.2,178.2L120.6,178.2L121.1,178.2L121.5,178.2L122,178.2L122.4,178.2L122.8,178.2L123.3,178.2L123.7,178.1L124.1,178.1L124.6,178L125,178L125.5,177.9L125.9,177.8L126.3,177.7L126.8,177.6L127.2,177.5L127.6,177.3L128.1,177.2L128.5,177.1L129,176.9L129.4,176.7L129.8,176.6L130.3,176.4L130.7,176.2L131.1,176L131.6,175.7L132,175.5L132.5,175.3L132.9,175L133.3,174.8L133.8,174.5L134.2,174.2L134.6,173.9L135.1,173.6L135.5,173.3L136,173L136.4,172.7L136.8,172.4L137.3,172L137.7,171.7L138.1,171.3L138.6,171L139,170.6L139.5,170.2L139.9,169.9L140.3,169.5L140.8,169.1L141.2,168.8L141.6,168.4L142.1,168L142.5,167.6L143,167.2L143.4,166.8L143.8,166.4L144.3,166.1L144.7,165.7L145.2,165.3L145.6,164.9L146,164.5L146.5,164.1L146.9,163.8L147.3,163.4L147.8,163L148.2,162.7L148.7,162.3L149.1,162L149.5,161.6L150,161.3L150.4,161L150.8,160.6L151.3,160.3L151.7,160L152.2,159.7L152.6,159.4L153,159.2L153.5,158.9L153.9,158.6L154.3,158.4L154.8,158.1L155.2,157.9L155.7,157.7L156.1,157.5L156.5,157.3L157,157.1L157.4,156.9L157.8,156.7L158.3,156.6L158.7,156.4L159.2,156.3L159.6,156.2L160,156.1L160.5,156L160.9,155.9L161.3,155.8L161.8,155.7L162.2,155.6L162.7,155.6L163.1,155.5L163.5,155.5L164,155.4L164.4,155.4L164.8,155.4L165.3,155.4L165.7,155.4L166.2,155.4L166.6,155.4L167,155.5L167.5,155.5L167.9,155.5L168.3,155.6L168.8,155.6L169.2,155.7L169.7,155.7L170.1,155.8L170.5,155.9L171,155.9L171.4,156L171.8,156.1L172.3,156.2L172.7,156.3L173.2,156.4L173.6,156.5L174,156.6L174.5,156.7L174.9,156.8L175.3,156.9L175.8,157L176.2,157.1L176.7,157.2L177.1,157.3L177.5,157.4L178,157.5L178.4,157.6L178.8,157.8L179.3,157.9L179.7,158L180.2,158.1L180.6,158.2L181,158.3L181.5,158.4L181.9,158.5L182.3,158.6L182.8,158.7L183.2,158.9L183.7,159L184.1,159.1L184.5,159.2L185,159.3L185.4,159.4L185.8,159.5L186.3,159.6L186.7,159.7L187.2,159.8L187.6,159.8L188,159.9L188.5,160L188.9,160.1L189.3,160.2L189.8,160.3L190.2,160.4L190.7,160.5L191.1,160.5L191.5,160.6L192,160.7L192.4,160.8L192.8,160.8L193.3,160.9L193.7,161L194.2,161L194.6,161.1L195,161.2L195.5,161.2L195.9,161.3L196.3,161.4L196.8,161.4L197.2,161.5L197.7,161.6L198.1,161.6L198.5,161.7L199,161.7L199.4,161.8L199.9,161.8L200.3,161.9L200.7,161.9L201.2,162L201.6,162L202,162.1L202.5,162.1L202.9,162.2L203.4,162.2L203.8,162.2L204.2,162.3L204.7,162.3L205.1,162.4L205.5,162.4L206,162.4L206.4,162.5L206.9,162.5L207.3,162.6L207.7,162.6L208.2,162.6L208.6,162.7L209,162.7L209.5,162.7L209.9,162.8L210.4,162.8L210.8,162.8L211.2,162.9L211.7,162.9L212.1,162.9L212.5,162.9L213,163L213.4,163L213.9,163L214.3,163.1L214.7,163.1L215.2,163.1L215.6,163.1L216,163.2L216.5,163.2L216.9,163.2L217.4,163.2L217.8,163.3L218.2,163.3L218.7,163.3L219.1,163.3L219.5,163.4L220,163.4L220.4,163.4L220.9,163.4L221.3,163.4L221.7,163.5L222.2,163.5L222.6,163.5L223,163.5L223.5,163.5L223.9,163.6L224.4,163.6L224.8,163.6L225.2,163.6L225.7,163.6L226.1,163.7L226.5,163.7L227,163.7L227.4,163.7L227.9,163.7L228.3,163.8L228.7,163.8L229.2,163.8L229.6,163.8L230,163.8L230.5,163.8L230.9,163.9L231.4,163.9L231.8,163.9L232.2,163.9L232.7,163.9L233.1,163.9L233.5,163.9L234,164L234.4,164L234.9,164L235.3,164L235.7,164L236.2,164L236.6,164.1L237,164.1L237.5,164.1L237.9,164.1L238.4,164.1L238.8,164.1L239.2,164.1L239.7,164.1L240.1,164.2L240.5,164.2L241,164.2L241.4,164.2L241.9,164.2L242.3,164.2L242.7,164.2L243.2,164.2L243.6,164.3L244,164.3L244.5,164.3L244.9,164.3L245.4,164.3L245.8,164.3L246.2,164.3L246.7,164.3L247.1,164.3L247.5,164.4L248,164.4L248.4,164.4L248.9,164.4L249.3,164.4L249.7,164.4L250.2,164.4L250.6,164.4L251,164.4L251.5,164.5L251.9,164.5L252.4,164.5L252.8,164.5" stroke="#EDB120" stroke-width="1.5"/>
<path d="M34,169.4L34.4,169.4L34.9,169.4L35.3,169.4L35.8,169.4L36.2,169.5L36.6,169.5L37.1,169.5L37.5,169.5L37.9,169.5L38.4,169.5L38.8,169.5L39.3,169.6L39.7,169.6L40.1,169.6L40.6,169.6L41,169.6L41.4,169.6L41.9,169.7L42.3,169.7L42.8,169.7L43.2,169.7L43.6,169.7L44.1,169.7L44.5,169.8L44.9,169.8L45.4,169.8L45.8,169.8L46.3,169.8L46.7,169.8L47.1,169.9L47.6,169.9L48,169.9L48.4,169.9L48.9,169.9L49.3,170L49.8,170L50.2,170L50.6,170L51.1,170L51.5,170.1L51.9,170.1L52.4,170.1L52.8,170.1L53.3,170.2L53.7,170.2L54.1,170.2L54.6,170.2L55,170.2L55.4,170.3L55.9,170.3L56.3,170.3L56.8,170.3L57.2,170.4L57.6,170.4L58.1,170.4L58.5,170.4L58.9,170.5L59.4,170.5L59.8,170.5L60.3,170.5L60.7,170.6L61.1,170.6L61.6,170.6L62,170.6L62.4,170.7L62.9,170.7L63.3,170.7L63.8,170.7L64.2,170.8L64.6,170.8L65.1,170.8L65.5,170.9L65.9,170.9L66.4,170.9L66.8,170.9L67.3,171L67.7,171L68.1,171L68.6,171.1L69,171.1L69.4,171.1L69.9,171.2L70.3,171.2L70.8,171.2L71.2,171.2L71.6,171.3L72.1,171.3L72.5,171.3L72.9,171.4L73.4,171.4L73.8,171.4L74.3,171.5L74.7,171.5L75.1,171.5L75.6,171.6L76,171.6L76.4,171.6L76.9,171.6L77.3,171.7L77.8,171.7L78.2,171.7L78.6,171.8L79.1,171.8L79.5,171.8L79.9,171.9L80.4,171.9L80.8,171.9L81.3,172L81.7,172L82.1,172L82.6,172L83,172.1L83.4,172.1L83.9,172.1L84.3,172.2L84.8,172.2L85.2,172.2L85.6,172.2L86.1,172.3L86.5,172.3L86.9,172.3L87.4,172.4L87.8,172.4L88.3,172.4L88.7,172.4L89.1,172.5L89.6,172.5L90,172.5L90.5,172.5L90.9,172.6L91.3,172.6L91.8,172.6L92.2,172.6L92.6,172.6L93.1,172.7L93.5,172.7L94,172.7L94.4,172.7L94.8,172.7L95.3,172.7L95.7,172.8L96.1,172.8L96.6,172.8L97,172.8L97.5,172.8L97.9,172.8L98.3,172.8L98.8,172.8L99.2,172.8L99.6,172.9L100.1,172.9L100.5,172.9L101,172.9L101.4,172.9L101.8,172.9L102.3,172.9L102.7,172.9L103.1,172.9L103.6,172.9L104,172.9L104.5,172.9L104.9,172.8L105.3,172.8L105.8,172.8L106.2,172.8L106.6,172.8L107.1,172.8L107.5,172.8L108,172.8L108.4,172.7L108.8,172.7L109.3,172.7L109.7,172.7L110.1,172.7L110.6,172.6L111,172.6L111.5,172.6L111.9,172.5L112.3,172.5L112.8,172.5L113.2,172.4L113.6,172.4L114.1,172.4L114.5,172.3L115,172.3L115.4,172.3L115.8,172.2L116.3,172.2L116.7,172.1L117.1,172.1L117.6,172L118,172L118.5,171.9L118.9,171.9L119.3,171.8L119.8,171.7L120.2,171.7L120.6,171.6L121.1,171.6L121.5,171.5L122,171.4L122.4,171.4L122.8,171.3L123.3,171.2L123.7,171.2L124.1,171.1L124.6,171L125,170.9L125.5,170.9L125.9,170.8L126.3,170.7L126.8,170.6L127.2,170.5L127.6,170.5L128.1,170.4L128.5,170.3L129,170.2L129.4,170.1L129.8,170L130.3,169.9L130.7,169.8L131.1,169.7L131.6,169.6L132,169.6L132.5,169.5L132.9,169.4L133.3,169.3L133.8,169.2L134.2,169.1L134.6,169L135.1,168.9L135.5,168.8L136,168.7L136.4,168.5L136.8,168.4L137.3,168.3L137.7,168.2L138.1,168.1L138.6,168L139,167.9L139.5,167.8L139.9,167.7L140.3,167.6L140.8,167.5L141.2,167.4L141.6,167.3L142.1,167.2L142.5,167L143,166.9L143.4,166.8L143.8,166.7L144.3,166.6L144.7,166.5L145.2,166.4L145.6,166.3L146,166.2L146.5,166.1L146.9,166L147.3,165.8L147.8,165.7L148.2,165.6L148.7,165.5L149.1,165.4L149.5,165.3L150,165.2L150.4,165.1L150.8,165L151.3,164.9L151.7,164.8L152.2,164.7L152.6,164.6L153,164.5L153.5,164.4L153.9,164.3L154.3,164.2L154.8,164.1L155.2,164L155.7,163.9L156.1,163.8L156.5,163.7L157,163.6L157.4,163.5L157.8,163.5L158.3,163.4L158.7,163.3L159.2,163.2L159.6,163.1L160,163L160.5,162.9L160.9,162.9L161.3,162.8L161.8,162.7L162.2,162.6L162.7,162.6L163.1,162.5L163.5,162.4L164,162.3L164.4,162.3L164.8,162.2L165.3,162.1L165.7,162.1L166.2,162L166.6,162L167,161.9L167.5,161.8L167.9,161.8L168.3,161.7L168.8,161.7L169.2,161.6L169.7,161.6L170.1,161.5L170.5,161.5L171,161.4L171.4,161.4L171.8,161.4L172.3,161.3L172.7,161.3L173.2,161.2L173.6,161.2L174,161.2L174.5,161.1L174.9,161.1L175.3,161.1L175.8,161L176.2,161L176.7,161L177.1,161L177.5,160.9L178,160.9L178.4,160.9L178.8,160.9L179.3,160.9L179.7,160.9L180.2,160.8L180.6,160.8L181,160.8L181.5,160.8L181.9,160.8L182.3,160.8L182.8,160.8L183.2,160.8L183.7,160.8L184.1,160.8L184.5,160.8L185,160.8L185.4,160.8L185.8,160.8L186.3,160.8L186.7,160.8L187.2,160.8L187.6,160.8L188,160.8L188.5,160.8L188.9,160.8L189.3,160.8L189.8,160.8L190.2,160.9L190.7,160.9L191.1,160.9L191.5,160.9L192,160.9L192.4,160.9L192.8,161L193.3,161L193.7,161L194.2,161L194.6,161L195,161.1L195.5,161.1L195.9,161.1L196.3,161.1L196.8,161.1L197.2,161.2L197.7,161.2L198.1,161.2L198.5,161.2L199,161.3L199.4,161.3L199.9,161.3L200.3,161.3L200.7,161.4L201.2,161.4L201.6,161.4L202,161.5L202.5,161.5L202.9,161.5L203.4,161.5L203.8,161.6L204.2,161.6L204.7,161.6L205.1,161.7L205.5,161.7L206,161.7L206.4,161.8L206.9,161.8L207.3,161.8L207.7,161.8L208.2,161.9L208.6,161.9L209,161.9L209.5,162L209.9,162L210.4,162L210.8,162.1L211.2,162.1L211.7,162.1L212.1,162.2L212.5,162.2L213,162.2L213.4,162.3L213.9,162.3L214.3,162.3L214.7,162.3L215.2,162.4L215.6,162.4L216,162.4L216.5,162.5L216.9,162.5L217.4,162.5L217.8,162.6L218.2,162.6L218.7,162.6L219.1,162.6L219.5,162.7L220,162.7L220.4,162.7L220.9,162.8L221.3,162.8L221.7,162.8L222.2,162.8L222.6,162.9L223,162.9L223.5,162.9L223.9,163L224.4,163L224.8,163L225.2,163L225.7,163.1L226.1,163.1L226.5,163.1L227,163.1L227.4,163.2L227.9,163.2L228.3,163.2L228.7,163.2L229.2,163.3L229.6,163.3L230,163.3L230.5,163.3L230.9,163.4L231.4,163.4L231.8,163.4L232.2,163.4L232.7,163.5L233.1,163.5L233.5,163.5L234,163.5L234.4,163.5L234.9,163.6L235.3,163.6L235.7,163.6L236.2,163.6L236.6,163.6L237,163.7L237.5,163.7L237.9,163.7L238.4,163.7L238.8,163.7L239.2,163.8L239.7,163.8L240.1,163.8L240.5,163.8L241,163.8L241.4,163.9L241.9,163.9L242.3,163.9L242.7,163.9L243.2,163.9L243.6,163.9L244,164L244.5,164L244.9,164L245.4,164L245.8,164L246.2,164L246.7,164.1L247.1,164.1L247.5,164.1L248,164.1L248.4,164.1L248.9,164.1L249.3,164.2L249.7,164.2L250.2,164.2L250.6,164.2L251,164.2L251.5,164.2L251.9,164.2L252.4,164.3L252.8,164.3" stroke="#7E2F8E" stroke-width="1.5"/>
</g>
<g clip-path="url(#c1)" fill="none" stroke-linejoin="round">
<path d="M299.2,105.1L299.6,105.1L300.1,105.1L300.5,105.1L301,105.1L301.4,105.1L301.8,105.1L302.3,105.1L302.7,105.1L303.1,105.1L303.6,105.1L304,105.1L304.5,105.1L304.9,105.1L305.3,105.1L305.8,105.1L306.2,105.1L306.6,105.1L307.1,105.1L307.5,105.1L308,105.1L308.4,105.1L308.8,105.1L309.3,105.1L309.7,105.1L310.1,105.1L310.6,105.1L311,105.1L311.5,105.1L311.9,105.1L312.3,105.1L312.8,105.1L313.2,105.1L313.6,105.1L314.1,105.1L314.5,105.1L315,105.1L315.4,105.1L315.8,105.1L316.3,105.1L316.7,105.1L317.1,105.1L317.6,105.1L318,105.1L318.5,105.1L318.9,105.1L319.3,105.1L319.8,105.1L320.2,105.1L320.6,105.1L321.1,105.1L321.5,105.1L322,105.1L322.4,105.1L322.8,105.1L323.3,105.1L323.7,105.1L324.1,105.1L324.6,105.1L325,105.1L325.5,105.1L325.9,105.1L326.3,105.1L326.8,105.1L327.2,105.1L327.6,105.1L328.1,105.1L328.5,105.1L329,105.1L329.4,105.1L329.8,105.1L330.3,105.1L330.7,105.1L331.1,105.1L331.6,105.1L332,105.1L332.5,105.1L332.9,105.1L333.3,105.1L333.8,105.1L334.2,105.1L334.6,105.1L335.1,105.1L335.5,105.1L336,105.1L336.4,105.1L336.8,105.1L337.3,105.1L337.7,105.1L338.1,105.1L338.6,105.1L339,105.1L339.5,105.1L339.9,105.1L340.3,105.1L340.8,105.1L341.2,105.1L341.6,105.1L342.1,105.1L342.5,105.1L343,105.1L343.4,105.1L343.8,105.1L344.3,105.1L344.7,105.1L345.1,105.1L345.6,105.1L346,105.1L346.5,105.1L346.9,105.1L347.3,105.1L347.8,105.1L348.2,105.1L348.6,105.1L349.1,105.1L349.5,105.1L350,105.1L350.4,105.1L350.8,105.1L351.3,105.1L351.7,105.1L352.1,105.1L352.6,105.1L353,105.1L353.5,105.1L353.9,105.1L354.3,105.1L354.8,105.1L355.2,105.1L355.7,105.1L356.1,105.1L356.5,105.1L357,105.1L357.4,105.1L357.8,105.1L358.3,105.1L358.7,105.1L359.2,105L359.6,105L360,105L360.5,105L360.9,105L361.3,105L361.8,105L362.2,105L362.7,104.9L363.1,104.9L363.5,104.9L364,104.9L364.4,104.8L364.8,104.8L365.3,104.8L365.7,104.7L366.2,104.7L366.6,104.7L367,104.6L367.5,104.5L367.9,104.5L368.3,104.4L368.8,104.3L369.2,104.3L369.7,104.2L370.1,104.1L370.5,104L371,103.9L371.4,103.7L371.8,103.6L372.3,103.5L372.7,103.3L373.2,103.1L373.6,102.9L374,102.8L374.5,102.5L374.9,102.3L375.3,102.1L375.8,101.8L376.2,101.6L376.7,101.3L377.1,101L377.5,100.6L378,100.3L378.4,99.9L378.8,99.5L379.3,99.1L379.7,98.7L380.2,98.3L380.6,97.8L381,97.3L381.5,96.8L381.9,96.2L382.3,95.7L382.8,95.1L383.2,94.5L383.7,93.9L384.1,93.2L384.5,92.6L385,91.9L385.4,91.2L385.8,90.4L386.3,89.7L386.7,88.9L387.2,88.1L387.6,87.3L388,86.5L388.5,85.7L388.9,84.8L389.3,83.9L389.8,83.1L390.2,82.2L390.7,81.3L391.1,80.4L391.5,79.5L392,78.6L392.4,77.7L392.8,76.8L393.3,75.9L393.7,74.9L394.2,74L394.6,73.1L395,72.2L395.5,71.4L395.9,70.5L396.3,69.6L396.8,68.8L397.2,68L397.7,67.2L398.1,66.4L398.5,65.6L399,64.8L399.4,64.1L399.8,63.4L400.3,62.7L400.7,62.1L401.2,61.5L401.6,60.9L402,60.3L402.5,59.8L402.9,59.3L403.3,58.8L403.8,58.4L404.2,58L404.7,57.7L405.1,57.3L405.5,57.1L406,56.8L406.4,56.6L406.8,56.4L407.3,56.3L407.7,56.2L408.2,56.1L408.6,56.1L409,56.1L409.5,56.2L409.9,56.3L410.4,56.4L410.8,56.6L411.2,56.8L411.7,57.1L412.1,57.3L412.5,57.7L413,58L413.4,58.4L413.9,58.8L414.3,59.3L414.7,59.8L415.2,60.3L415.6,60.9L416,61.5L416.5,62.1L416.9,62.7L417.4,63.4L417.8,64.1L418.2,64.8L418.7,65.6L419.1,66.4L419.5,67.2L420,68L420.4,68.8L420.9,69.6L421.3,70.5L421.7,71.4L422.2,72.2L422.6,73.1L423,74L423.5,74.9L423.9,75.9L424.4,76.8L424.8,77.7L425.2,78.6L425.7,79.5L426.1,80.4L426.5,81.3L427,82.2L427.4,83.1L427.9,83.9L428.3,84.8L428.7,85.7L429.2,86.5L429.6,87.3L430,88.1L430.5,88.9L430.9,89.7L431.4,90.4L431.8,91.2L432.2,91.9L432.7,92.6L433.1,93.2L433.5,93.9L434,94.5L434.4,95.1L434.9,95.7L435.3,96.2L435.7,96.8L436.2,97.3L436.6,97.8L437,98.3L437.5,98.7L437.9,99.1L438.4,99.5L438.8,99.9L439.2,100.3L439.7,100.6L440.1,101L440.5,101.3L441,101.6L441.4,101.8L441.9,102.1L442.3,102.3L442.7,102.5L443.2,102.8L443.6,102.9L444,103.1L444.5,103.3L444.9,103.5L445.4,103.6L445.8,103.7L446.2,103.9L446.7,104L447.1,104.1L447.5,104.2L448,104.3L448.4,104.3L448.9,104.4L449.3,104.5L449.7,104.5L450.2,104.6L450.6,104.7L451,104.7L451.5,104.7L451.9,104.8L452.4,104.8L452.8,104.8L453.2,104.9L453.7,104.9L454.1,104.9L454.5,104.9L455,105L455.4,105L455.9,105L456.3,105L456.7,105L457.2,105L457.6,105L458,105L458.5,105.1L458.9,105.1L459.4,105.1L459.8,105.1L460.2,105.1L460.7,105.1L461.1,105.1L461.5,105.1L462,105.1L462.4,105.1L462.9,105.1L463.3,105.1L463.7,105.1L464.2,105.1L464.6,105.1L465.1,105.1L465.5,105.1L465.9,105.1L466.4,105.1L466.8,105.1L467.2,105.1L467.7,105.1L468.1,105.1L468.6,105.1L469,105.1L469.4,105.1L469.9,105.1L470.3,105.1L470.7,105.1L471.2,105.1L471.6,105.1L472.1,105.1L472.5,105.1L472.9,105.1L473.4,105.1L473.8,105.1L474.2,105.1L474.7,105.1L475.1,105.1L475.6,105.1L476,105.1L476.4,105.1L476.9,105.1L477.3,105.1L477.7,105.1L478.2,105.1L478.6,105.1L479.1,105.1L479.5,105.1L479.9,105.1L480.4,105.1L480.8,105.1L481.2,105.1L481.7,105.1L482.1,105.1L482.6,105.1L483,105.1L483.4,105.1L483.9,105.1L484.3,105.1L484.7,105.1L485.2,105.1L485.6,105.1L486.1,105.1L486.5,105.1L486.9,105.1L487.4,105.1L487.8,105.1L488.2,105.1L488.7,105.1L489.1,105.1L489.6,105.1L490,105.1L490.4,105.1L490.9,105.1L491.3,105.1L491.7,105.1L492.2,105.1L492.6,105.1L493.1,105.1L493.5,105.1L493.9,105.1L494.4,105.1L494.8,105.1L495.2,105.1L495.7,105.1L496.1,105.1L496.6,105.1L497,105.1L497.4,105.1L497.9,105.1L498.3,105.1L498.7,105.1L499.2,105.1L499.6,105.1L500.1,105.1L500.5,105.1L500.9,105.1L501.4,105.1L501.8,105.1L502.2,105.1L502.7,105.1L503.1,105.1L503.6,105.1L504,105.1L504.4,105.1L504.9,105.1L505.3,105.1L505.7,105.1L506.2,105.1L506.6,105.1L507.1,105.1L507.5,105.1L507.9,105.1L508.4,105.1L508.8,105.1L509.2,105.1L509.7,105.1L510.1,105.1L510.6,105.1L511,105.1L511.4,105.1L511.9,105.1L512.3,105.1L512.7,105.1L513.2,105.1L513.6,105.1L514.1,105.1L514.5,105.1L514.9,105.1L515.4,105.1L515.8,105.1L516.2,105.1L516.7,105.1L517.1,105.1L517.6,105.1L518,105.1" stroke="#D95319" stroke-width="1.5"/>
<path d="M299.2,105.1L299.6,105.1L300.1,105.1L300.5,105.1L301,105.1L301.4,105.1L301.8,105.1L302.3,105.1L302.7,105.1L303.1,105.1L303.6,105.1L304,105.1L304.5,105.1L304.9,105.1L305.3,105.1L305.8,105.1L306.2,105.1L306.6,105.1L307.1,105.1L307.5,105.1L308,105.1L308.4,105.1L308.8,105.1L309.3,105.1L309.7,105.1L310.1,105.1L310.6,105.1L311,105.1L311.5,105.1L311.9,105.1L312.3,105.1L312.8,105.1L313.2,105.1L313.6,105.1L314.1,105.1L314.5,105.1L315,105.1L315.4,105.1L315.8,105.1L316.3,105.1L316.7,105.1L317.1,105.1L317.6,105.1L318,105.1L318.5,105.1L318.9,105.1L319.3,105.1L319.8,105.1L320.2,105.1L320.6,105.1L321.1,105.1L321.5,105.1L322,105.1L322.4,105.1L322.8,105.1L323.3,105.1L323.7,105.1L324.1,105.1L324.6,105.1L325,105.1L325.5,105.1L325.9,105.1L326.3,105.1L326.8,105.1L327.2,105.1L327.6,105.1L328.1,105.1L328.5,105.1L329,105.1L329.4,105.1L329.8,105.1L330.3,105.1L330.7,105.1L331.1,105.1L331.6,105.1L332,105.1L332.5,105.1L332.9,105.1L333.3,105.1L333.8,105.1L334.2,105.1L334.6,105.1L335.1,105.1L335.5,105.1L336,105.1L336.4,105.1L336.8,105.1L337.3,105.1L337.7,105.1L338.1,105.1L338.6,105.1L339,105.1L339.5,105.1L339.9,105.1L340.3,105.1L340.8,105.1L341.2,105.1L341.6,105.1L342.1,105.1L342.5,105.1L343,105.1L343.4,105.1L343.8,105.1L344.3,105.1L344.7,105.1L345.1,105.1L345.6,105.1L346,105.1L346.5,105.1L346.9,105.1L347.3,105.1L347.8,105.1L348.2,105.1L348.6,105.1L349.1,105.1L349.5,105.1L350,105.1L350.4,105.1L350.8,105.1L351.3,105.1L351.7,105.1L352.1,105.1L352.6,105.1L353,105.1L353.5,105.1L353.9,105.1L354.3,105.1L354.8,105.1L355.2,105.1L355.7,105.1L356.1,105.1L356.5,105.1L357,105.1L357.4,105.1L357.8,105.1L358.3,105.1L358.7,105.1L359.2,105.1L359.6,105.1L360,105.1L360.5,105.1L360.9,105.1L361.3,105.1L361.8,105.1L362.2,105.1L362.7,105.1L363.1,105.1L363.5,105.1L364,105.1L364.4,105.1L364.8,105L365.3,105L365.7,105L366.2,105L366.6,105L367,105L367.5,105L367.9,105L368.3,104.9L368.8,104.9L369.2,104.9L369.7,104.8L370.1,104.8L370.5,104.8L371,104.7L371.4,104.7L371.8,104.6L372.3,104.6L372.7,104.5L373.2,104.4L373.6,104.4L374,104.3L374.5,104.2L374.9,104.1L375.3,104L375.8,103.8L376.2,103.7L376.7,103.6L377.1,103.4L377.5,103.2L378,103L378.4,102.8L378.8,102.6L379.3,102.3L379.7,102.1L380.2,101.8L380.6,101.4L381,101.1L381.5,100.8L381.9,100.4L382.3,100L382.8,99.5L383.2,99L383.7,98.5L384.1,98L384.5,97.4L385,96.8L385.4,96.2L385.8,95.5L386.3,94.8L386.7,94.1L387.2,93.3L387.6,92.5L388,91.7L388.5,90.8L388.9,89.9L389.3,88.9L389.8,87.9L390.2,86.9L390.7,85.8L391.1,84.7L391.5,83.6L392,82.4L392.4,81.2L392.8,80L393.3,78.8L393.7,77.5L394.2,76.2L394.6,74.9L395,73.6L395.5,72.2L395.9,70.9L396.3,69.5L396.8,68.2L397.2,66.8L397.7,65.5L398.1,64.1L398.5,62.8L399,61.5L399.4,60.2L399.8,58.9L400.3,57.7L400.7,56.5L401.2,55.3L401.6,54.2L402,53.1L402.5,52.1L402.9,51.1L403.3,50.2L403.8,49.3L404.2,48.5L404.7,47.8L405.1,47.2L405.5,46.6L406,46L406.4,45.6L406.8,45.2L407.3,45L407.7,44.8L408.2,44.6L408.6,44.6L409,44.6L409.5,44.8L409.9,45L410.4,45.2L410.8,45.6L411.2,46L411.7,46.6L412.1,47.2L412.5,47.8L413,48.5L413.4,49.3L413.9,50.2L414.3,51.1L414.7,52.1L415.2,53.1L415.6,54.2L416,55.3L416.5,56.5L416.9,57.7L417.4,58.9L417.8,60.2L418.2,61.5L418.7,62.8L419.1,64.1L419.5,65.5L420,66.8L420.4,68.2L420.9,69.5L421.3,70.9L421.7,72.2L422.2,73.6L422.6,74.9L423,76.2L423.5,77.5L423.9,78.8L424.4,80L424.8,81.2L425.2,82.4L425.7,83.6L426.1,84.7L426.5,85.8L427,86.9L427.4,87.9L427.9,88.9L428.3,89.9L428.7,90.8L429.2,91.7L429.6,92.5L430,93.3L430.5,94.1L430.9,94.8L431.4,95.5L431.8,96.2L432.2,96.8L432.7,97.4L433.1,98L433.5,98.5L434,99L434.4,99.5L434.9,100L435.3,100.4L435.7,100.8L436.2,101.1L436.6,101.4L437,101.8L437.5,102.1L437.9,102.3L438.4,102.6L438.8,102.8L439.2,103L439.7,103.2L440.1,103.4L440.5,103.6L441,103.7L441.4,103.8L441.9,104L442.3,104.1L442.7,104.2L443.2,104.3L443.6,104.4L444,104.4L444.5,104.5L444.9,104.6L445.4,104.6L445.8,104.7L446.2,104.7L446.7,104.8L447.1,104.8L447.5,104.8L448,104.9L448.4,104.9L448.9,104.9L449.3,105L449.7,105L450.2,105L450.6,105L451,105L451.5,105L451.9,105L452.4,105L452.8,105.1L453.2,105.1L453.7,105.1L454.1,105.1L454.5,105.1L455,105.1L455.4,105.1L455.9,105.1L456.3,105.1L456.7,105.1L457.2,105.1L457.6,105.1L458,105.1L458.5,105.1L458.9,105.1L459.4,105.1L459.8,105.1L460.2,105.1L460.7,105.1L461.1,105.1L461.5,105.1L462,105.1L462.4,105.1L462.9,105.1L463.3,105.1L463.7,105.1L464.2,105.1L464.6,105.1L465.1,105.1L465.5,105.1L465.9,105.1L466.4,105.1L466.8,105.1L467.2,105.1L467.7,105.1L468.1,105.1L468.6,105.1L469,105.1L469.4,105.1L469.9,105.1L470.3,105.1L470.7,105.1L471.2,105.1L471.6,105.1L472.1,105.1L472.5,105.1L472.9,105.1L473.4,105.1L473.8,105.1L474.2,105.1L474.7,105.1L475.1,105.1L475.6,105.1L476,105.1L476.4,105.1L476.9,105.1L477.3,105.1L477.7,105.1L478.2,105.1L478.6,105.1L479.1,105.1L479.5,105.1L479.9,105.1L480.4,105.1L480.8,105.1L481.2,105.1L481.7,105.1L482.1,105.1L482.6,105.1L483,105.1L483.4,105.1L483.9,105.1L484.3,105.1L484.7,105.1L485.2,105.1L485.6,105.1L486.1,105.1L486.5,105.1L486.9,105.1L487.4,105.1L487.8,105.1L488.2,105.1L488.7,105.1L489.1,105.1L489.6,105.1L490,105.1L490.4,105.1L490.9,105.1L491.3,105.1L491.7,105.1L492.2,105.1L492.6,105.1L493.1,105.1L493.5,105.1L493.9,105.1L494.4,105.1L494.8,105.1L495.2,105.1L495.7,105.1L496.1,105.1L496.6,105.1L497,105.1L497.4,105.1L497.9,105.1L498.3,105.1L498.7,105.1L499.2,105.1L499.6,105.1L500.1,105.1L500.5,105.1L500.9,105.1L501.4,105.1L501.8,105.1L502.2,105.1L502.7,105.1L503.1,105.1L503.6,105.1L504,105.1L504.4,105.1L504.9,105.1L505.3,105.1L505.7,105.1L506.2,105.1L506.6,105.1L507.1,105.1L507.5,105.1L507.9,105.1L508.4,105.1L508.8,105.1L509.2,105.1L509.7,105.1L510.1,105.1L510.6,105.1L511,105.1L511.4,105.1L511.9,105.1L512.3,105.1L512.7,105.1L513.2,105.1L513.6,105.1L514.1,105.1L514.5,105.1L514.9,105.1L515.4,105.1L515.8,105.1L516.2,105.1L516.7,105.1L517.1,105.1L517.6,105.1L518,105.1" stroke="#EDB120" stroke-width="1.5"/>
<path d="M299.2,105.1L299.6,105.1L300.1,105.1L300.5,105.1L301,105.1L301.4,105.1L301.8,105.1L302.3,105.1L302.7,105.1L303.1,105.1L303.6,105.1L304,105.1L304.5,105.1L304.9,105.1L305.3,105.1L305.8,105.1L306.2,105.1L306.6,105.1L307.1,105.1L307.5,105.1L308,105.1L308.4,105.1L308.8,105.1L309.3,105.1L309.7,105.1L310.1,105.1L310.6,105.1L311,105.1L311.5,105.1L311.9,105.1L312.3,105.1L312.8,105.1L313.2,105.1L313.6,105.1L314.1,105.1L314.5,105.1L315,105.1L315.4,105.1L315.8,105.1L316.3,105.1L316.7,105.1L317.1,105.1L317.6,105.1L318,105.1L318.5,105.1L318.9,105.1L319.3,105.1L319.8,105.1L320.2,105.1L320.6,105.1L321.1,105.1L321.5,105.1L322,105.1L322.4,105.1L322.8,105.1L323.3,105.1L323.7,105.1L324.1,105.1L324.6,105.1L325,105.1L325.5,105.1L325.9,105.1L326.3,105.1L326.8,105.1L327.2,105.1L327.6,105.1L328.1,105.1L328.5,105.1L329,105.1L329.4,105.1L329.8,105.1L330.3,105.1L330.7,105.1L331.1,105.1L331.6,105.1L332,105.1L332.5,105.1L332.9,105.1L333.3,105.1L333.8,105.1L334.2,105.1L334.6,105.1L335.1,105.1L335.5,105.1L336,105.1L336.4,105.1L336.8,105.1L337.3,105.1L337.7,105.1L338.1,105.1L338.6,105.1L339,105.1L339.5,105.1L339.9,105.1L340.3,105.1L340.8,105.1L341.2,105.1L341.6,105.1L342.1,105.1L342.5,105.1L343,105.1L343.4,105.1L343.8,105.1L344.3,105.1L344.7,105.1L345.1,105.1L345.6,105.1L346,105.1L346.5,105.1L346.9,105.1L347.3,105.1L347.8,105.1L348.2,105.1L348.6,105.1L349.1,105.1L349.5,105.1L350,105.1L350.4,105.1L350.8,105.1L351.3,105.1L351.7,105.1L352.1,105.1L352.6,105.1L353,105.1L353.5,105.1L353.9,105.1L354.3,105.1L354.8,105.1L355.2,105.1L355.7,105.1L356.1,105.1L356.5,105.1L357,105.1L357.4,105.1L357.8,105.1L358.3,105.1L358.7,105.1L359.2,105.1L359.6,105.1L360,105.1L360.5,105.1L360.9,105.1L361.3,105.1L361.8,105.1L362.2,105.1L362.7,105.1L363.1,105.1L363.5,105.1L364,105.1L364.4,105.1L364.8,105.1L365.3,105.1L365.7,105.1L366.2,105.1L366.6,105L367,105L367.5,105L367.9,105L368.3,105L368.8,105L369.2,105L369.7,105L370.1,104.9L370.5,104.9L371,104.9L371.4,104.9L371.8,104.8L372.3,104.8L372.7,104.7L373.2,104.7L373.6,104.6L374,104.6L374.5,104.5L374.9,104.4L375.3,104.3L375.8,104.2L376.2,104.1L376.7,104L377.1,103.9L377.5,103.8L378,103.6L378.4,103.4L378.8,103.3L379.3,103.1L379.7,102.8L380.2,102.6L380.6,102.3L381,102.1L381.5,101.7L381.9,101.4L382.3,101.1L382.8,100.7L383.2,100.2L383.7,99.8L384.1,99.3L384.5,98.8L385,98.3L385.4,97.7L385.8,97L386.3,96.4L386.7,95.7L387.2,94.9L387.6,94.1L388,93.3L388.5,92.4L388.9,91.5L389.3,90.6L389.8,89.6L390.2,88.5L390.7,87.4L391.1,86.3L391.5,85.1L392,83.9L392.4,82.6L392.8,81.3L393.3,80L393.7,78.6L394.2,77.2L394.6,75.8L395,74.4L395.5,72.9L395.9,71.4L396.3,69.9L396.8,68.4L397.2,66.9L397.7,65.3L398.1,63.8L398.5,62.3L399,60.8L399.4,59.3L399.8,57.8L400.3,56.4L400.7,55L401.2,53.6L401.6,52.3L402,51L402.5,49.8L402.9,48.7L403.3,47.6L403.8,46.6L404.2,45.6L404.7,44.7L405.1,43.9L405.5,43.2L406,42.6L406.4,42.1L406.8,41.6L407.3,41.3L407.7,41.1L408.2,40.9L408.6,40.9L409,40.9L409.5,41.1L409.9,41.3L410.4,41.6L410.8,42.1L411.2,42.6L411.7,43.2L412.1,43.9L412.5,44.7L413,45.6L413.4,46.6L413.9,47.6L414.3,48.7L414.7,49.8L415.2,51L415.6,52.3L416,53.6L416.5,55L416.9,56.4L417.4,57.8L417.8,59.3L418.2,60.8L418.7,62.3L419.1,63.8L419.5,65.3L420,66.9L420.4,68.4L420.9,69.9L421.3,71.4L421.7,72.9L422.2,74.4L422.6,75.8L423,77.2L423.5,78.6L423.9,80L424.4,81.3L424.8,82.6L425.2,83.9L425.7,85.1L426.1,86.3L426.5,87.4L427,88.5L427.4,89.6L427.9,90.6L428.3,91.5L428.7,92.4L429.2,93.3L429.6,94.1L430,94.9L430.5,95.7L430.9,96.4L431.4,97L431.8,97.7L432.2,98.3L432.7,98.8L433.1,99.3L433.5,99.8L434,100.2L434.4,100.7L434.9,101.1L435.3,101.4L435.7,101.7L436.2,102.1L436.6,102.3L437,102.6L437.5,102.8L437.9,103.1L438.4,103.3L438.8,103.4L439.2,103.6L439.7,103.8L440.1,103.9L440.5,104L441,104.1L441.4,104.2L441.9,104.3L442.3,104.4L442.7,104.5L443.2,104.6L443.6,104.6L444,104.7L444.5,104.7L444.9,104.8L445.4,104.8L445.8,104.9L446.2,104.9L446.7,104.9L447.1,104.9L447.5,105L448,105L448.4,105L448.9,105L449.3,105L449.7,105L450.2,105L450.6,105L451,105.1L451.5,105.1L451.9,105.1L452.4,105.1L452.8,105.1L453.2,105.1L453.7,105.1L454.1,105.1L454.5,105.1L455,105.1L455.4,105.1L455.9,105.1L456.3,105.1L456.7,105.1L457.2,105.1L457.6,105.1L458,105.1L458.5,105.1L458.9,105.1L459.4,105.1L459.8,105.1L460.2,105.1L460.7,105.1L461.1,105.1L461.5,105.1L462,105.1L462.4,105.1L462.9,105.1L463.3,105.1L463.7,105.1L464.2,105.1L464.6,105.1L465.1,105.1L465.5,105.1L465.9,105.1L466.4,105.1L466.8,105.1L467.2,105.1L467.7,105.1L468.1,105.1L468.6,105.1L469,105.1L469.4,105.1L469.9,105.1L470.3,105.1L470.7,105.1L471.2,105.1L471.6,105.1L472.1,105.1L472.5,105.1L472.9,105.1L473.4,105.1L473.8,105.1L474.2,105.1L474.7,105.1L475.1,105.1L475.6,105.1L476,105.1L476.4,105.1L476.9,105.1L477.3,105.1L477.7,105.1L478.2,105.1L478.6,105.1L479.1,105.1L479.5,105.1L479.9,105.1L480.4,105.1L480.8,105.1L481.2,105.1L481.7,105.1L482.1,105.1L482.6,105.1L483,105.1L483.4,105.1L483.9,105.1L484.3,105.1L484.7,105.1L485.2,105.1L485.6,105.1L486.1,105.1L486.5,105.1L486.9,105.1L487.4,105.1L487.8,105.1L488.2,105.1L488.7,105.1L489.1,105.1L489.6,105.1L490,105.1L490.4,105.1L490.9,105.1L491.3,105.1L491.7,105.1L492.2,105.1L492.6,105.1L493.1,105.1L493.5,105.1L493.9,105.1L494.4,105.1L494.8,105.1L495.2,105.1L495.7,105.1L496.1,105.1L496.6,105.1L497,105.1L497.4,105.1L497.9,105.1L498.3,105.1L498.7,105.1L499.2,105.1L499.6,105.1L500.1,105.1L500.5,105.1L500.9,105.1L501.4,105.1L501.8,105.1L502.2,105.1L502.7,105.1L503.1,105.1L503.6,105.1L504,105.1L504.4,105.1L504.9,105.1L505.3,105.1L505.7,105.1L506.2,105.1L506.6,105.1L507.1,105.1L507.5,105.1L507.9,105.1L508.4,105.1L508.8,105.1L509.2,105.1L509.7,105.1L510.1,105.1L510.6,105.1L511,105.1L511.4,105.1L511.9,105.1L512.3,105.1L512.7,105.1L513.2,105.1L513.6,105.1L514.1,105.1L514.5,105.1L514.9,105.1L515.4,105.1L515.8,105.1L516.2,105.1L516.7,105.1L517.1,105.1L517.6,105.1L518,105.1" stroke="#7E2F8E" stroke-width="1.5"/>
<path d="M299.2,105.1L299.6,105.1L300.1,105.1L300.5,105.1L301,105.1L301.4,105.1L301.8,105.1L302.3,105.1L302.7,105.1L303.1,105.1L303.6,105.1L304,105.1L304.5,105.1L304.9,105.1L305.3,105.1L305.8,105.1L306.2,105.1L306.6,105.1L307.1,105.1L307.5,105.1L308,105.1L308.4,105.1L308.8,105.1L309.3,105.1L309.7,105.1L310.1,105.1L310.6,105.1L311,105.1L311.5,105.1L311.9,105.1L312.3,105.1L312.8,105.1L313.2,105.1L313.6,105.1L314.1,105.1L314.5,105.1L315,105.1L315.4,105.1L315.8,105.1L316.3,105.1L316.7,105.1L317.1,105.1L317.6,105.1L318,105.1L318.5,105.1L318.9,105.1L319.3,105.1L319.8,105.1L320.2,105.1L320.6,105.1L321.1,105.1L321.5,105.1L322,105.1L322.4,105.1L322.8,105.1L323.3,105.1L323.7,105.1L324.1,105.1L324.6,105.1L325,105.1L325.5,105.1L325.9,105.1L326.3,105.1L326.8,105.1L327.2,105.1L327.6,105.1L328.1,105.1L328.5,105.1L329,105.1L329.4,105.1L329.8,105.1L330.3,105.1L330.7,105.1L331.1,105.1L331.6,105.1L332,105.1L332.5,105.1L332.9,105.1L333.3,105.1L333.8,105.1L334.2,105.1L334.6,105.1L335.1,105.1L335.5,105.1L336,105.1L336.4,105.1L336.8,105.1L337.3,105.1L337.7,105.1L338.1,105.1L338.6,105.1L339,105.1L339.5,105.1L339.9,105.1L340.3,105.1L340.8,105.1L341.2,105.1L341.6,105.1L342.1,105.1L342.5,105.1L343,105.1L343.4,105.1L343.8,105.1L344.3,105.1L344.7,105.1L345.1,105.1L345.6,105.1L346,105.1L346.5,105.1L346.9,105.1L347.3,105.1L347.8,105.1L348.2,105.1L348.6,105.1L349.1,105.1L349.5,105.1L350,105.1L350.4,105.1L350.8,105.1L351.3,105.1L351.7,105.1L352.1,105.1L352.6,105.1L353,105.1L353.5,105.1L353.9,105.1L354.3,105.1L354.8,105.1L355.2,105.1L355.7,105.1L356.1,105.1L356.5,105.1L357,105.1L357.4,105.1L357.8,105.1L358.3,105.1L358.7,105.1L359.2,105.1L359.6,105.1L360,105.1L360.5,105.1L360.9,105.1L361.3,105.1L361.8,105.1L362.2,105.1L362.7,105.1L363.1,105.1L363.5,105.1L364,105.1L364.4,105.1L364.8,105.1L365.3,105.1L365.7,105.1L366.2,105.1L366.6,105.1L367,105.1L367.5,105L367.9,105L368.3,105L368.8,105L369.2,105L369.7,105L370.1,105L370.5,104.9L371,104.9L371.4,104.9L371.8,104.9L372.3,104.8L372.7,104.8L373.2,104.8L373.6,104.7L374,104.7L374.5,104.6L374.9,104.5L375.3,104.5L375.8,104.4L376.2,104.3L376.7,104.2L377.1,104.1L377.5,103.9L378,103.8L378.4,103.6L378.8,103.5L379.3,103.3L379.7,103.1L380.2,102.9L380.6,102.6L381,102.4L381.5,102.1L381.9,101.8L382.3,101.4L382.8,101.1L383.2,100.7L383.7,100.2L384.1,99.8L384.5,99.3L385,98.7L385.4,98.2L385.8,97.6L386.3,96.9L386.7,96.2L387.2,95.5L387.6,94.7L388,93.9L388.5,93L388.9,92.1L389.3,91.2L389.8,90.2L390.2,89.1L390.7,88L391.1,86.9L391.5,85.7L392,84.4L392.4,83.2L392.8,81.8L393.3,80.5L393.7,79.1L394.2,77.7L394.6,76.2L395,74.7L395.5,73.2L395.9,71.6L396.3,70.1L396.8,68.5L397.2,66.9L397.7,65.3L398.1,63.7L398.5,62.1L399,60.6L399.4,59L399.8,57.5L400.3,56L400.7,54.5L401.2,53.1L401.6,51.7L402,50.3L402.5,49L402.9,47.8L403.3,46.7L403.8,45.6L404.2,44.6L404.7,43.6L405.1,42.8L405.5,42L406,41.4L406.4,40.8L406.8,40.3L407.3,40L407.7,39.7L408.2,39.6L408.6,39.5L409,39.6L409.5,39.7L409.9,40L410.4,40.3L410.8,40.8L411.2,41.4L411.7,42L412.1,42.8L412.5,43.6L413,44.6L413.4,45.6L413.9,46.7L414.3,47.8L414.7,49L415.2,50.3L415.6,51.7L416,53.1L416.5,54.5L416.9,56L417.4,57.5L417.8,59L418.2,60.6L418.7,62.1L419.1,63.7L419.5,65.3L420,66.9L420.4,68.5L420.9,70.1L421.3,71.6L421.7,73.2L422.2,74.7L422.6,76.2L423,77.7L423.5,79.1L423.9,80.5L424.4,81.8L424.8,83.2L425.2,84.4L425.7,85.7L426.1,86.9L426.5,88L427,89.1L427.4,90.2L427.9,91.2L428.3,92.1L428.7,93L429.2,93.9L429.6,94.7L430,95.5L430.5,96.2L430.9,96.9L431.4,97.6L431.8,98.2L432.2,98.7L432.7,99.3L433.1,99.8L433.5,100.2L434,100.7L434.4,101.1L434.9,101.4L435.3,101.8L435.7,102.1L436.2,102.4L436.6,102.6L437,102.9L437.5,103.1L437.9,103.3L438.4,103.5L438.8,103.6L439.2,103.8L439.7,103.9L440.1,104.1L440.5,104.2L441,104.3L441.4,104.4L441.9,104.5L442.3,104.5L442.7,104.6L443.2,104.7L443.6,104.7L444,104.8L444.5,104.8L444.9,104.8L445.4,104.9L445.8,104.9L446.2,104.9L446.7,104.9L447.1,105L447.5,105L448,105L448.4,105L448.9,105L449.3,105L449.7,105L450.2,105.1L450.6,105.1L451,105.1L451.5,105.1L451.9,105.1L452.4,105.1L452.8,105.1L453.2,105.1L453.7,105.1L454.1,105.1L454.5,105.1L455,105.1L455.4,105.1L455.9,105.1L456.3,105.1L456.7,105.1L457.2,105.1L457.6,105.1L458,105.1L458.5,105.1L458.9,105.1L459.4,105.1L459.8,105.1L460.2,105.1L460.7,105.1L461.1,105.1L461.5,105.1L462,105.1L462.4,105.1L462.9,105.1L463.3,105.1L463.7,105.1L464.2,105.1L464.6,105.1L465.1,105.1L465.5,105.1L465.9,105.1L466.4,105.1L466.8,105.1L467.2,105.1L467.7,105.1L468.1,105.1L468.6,105.1L469,105.1L469.4,105.1L469.9,105.1L470.3,105.1L470.7,105.1L471.2,105.1L471.6,105.1L472.1,105.1L472.5,105.1L472.9,105.1L473.4,105.1L473.8,105.1L474.2,105.1L474.7,105.1L475.1,105.1L475.6,105.1L476,105.1L476.4,105.1L476.9,105.1L477.3,105.1L477.7,105.1L478.2,105.1L478.6,105.1L479.1,105.1L479.5,105.1L479.9,105.1L480.4,105.1L480.8,105.1L481.2,105.1L481.7,105.1L482.1,105.1L482.6,105.1L483,105.1L483.4,105.1L483.9,105.1L484.3,105.1L484.7,105.1L485.2,105.1L485.6,105.1L486.1,105.1L486.5,105.1L486.9,105.1L487.4,105.1L487.8,105.1L488.2,105.1L488.7,105.1L489.1,105.1L489.6,105.1L490,105.1L490.4,105.1L490.9,105.1L491.3,105.1L491.7,105.1L492.2,105.1L492.6,105.1L493.1,105.1L493.5,105.1L493.9,105.1L494.4,105.1L494.8,105.1L495.2,105.1L495.7,105.1L496.1,105.1L496.6,105.1L497,105.1L497.4,105.1L497.9,105.1L498.3,105.1L498.7,105.1L499.2,105.1L499.6,105.1L500.1,105.1L500.5,105.1L500.9,105.1L501.4,105.1L501.8,105.1L502.2,105.1L502.7,105.1L503.1,105.1L503.6,105.1L504,105.1L504.4,105.1L504.9,105.1L505.3,105.1L505.7,105.1L506.2,105.1L506.6,105.1L507.1,105.1L507.5,105.1L507.9,105.1L508.4,105.1L508.8,105.1L509.2,105.1L509.7,105.1L510.1,105.1L510.6,105.1L511,105.1L511.4,105.1L511.9,105.1L512.3,105.1L512.7,105.1L513.2,105.1L513.6,105.1L514.1,105.1L514.5,105.1L514.9,105.1L515.4,105.1L515.8,105.1L516.2,105.1L516.7,105.1L517.1,105.1L517.6,105.1L518,105.1" stroke="#000" stroke-width="2.75"/>
</g>
<g clip-path="url(#c3)" fill="none" stroke-linejoin="round">
<path d="M299.2,171.5L299.6,171.5L300.1,171.5L300.5,171.5L301,171.5L301.4,171.6L301.8,171.6L302.3,171.6L302.7,171.6L303.1,171.7L303.6,171.7L304,171.7L304.5,171.7L304.9,171.7L305.3,171.8L305.8,171.8L306.2,171.8L306.6,171.8L307.1,171.8L307.5,171.9L308,171.9L308.4,171.9L308.8,171.9L309.3,172L309.7,172L310.1,172L310.6,172L311,172.1L311.5,172.1L311.9,172.1L312.3,172.1L312.8,172.2L313.2,172.2L313.6,172.2L314.1,172.2L314.5,172.3L315,172.3L315.4,172.3L315.8,172.3L316.3,172.4L316.7,172.4L317.1,172.4L317.6,172.5L318,172.5L318.5,172.5L318.9,172.5L319.3,172.6L319.8,172.6L320.2,172.6L320.6,172.7L321.1,172.7L321.5,172.7L322,172.8L322.4,172.8L322.8,172.8L323.3,172.9L323.7,172.9L324.1,172.9L324.6,173L325,173L325.5,173L325.9,173.1L326.3,173.1L326.8,173.1L327.2,173.2L327.6,173.2L328.1,173.2L328.5,173.3L329,173.3L329.4,173.4L329.8,173.4L330.3,173.4L330.7,173.5L331.1,173.5L331.6,173.6L332,173.6L332.5,173.6L332.9,173.7L333.3,173.7L333.8,173.8L334.2,173.8L334.6,173.9L335.1,173.9L335.5,173.9L336,174L336.4,174L336.8,174.1L337.3,174.1L337.7,174.2L338.1,174.2L338.6,174.3L339,174.3L339.5,174.4L339.9,174.4L340.3,174.5L340.8,174.6L341.2,174.6L341.6,174.7L342.1,174.7L342.5,174.8L343,174.8L343.4,174.9L343.8,175L344.3,175L344.7,175.1L345.1,175.2L345.6,175.2L346,175.3L346.5,175.4L346.9,175.4L347.3,175.5L347.8,175.6L348.2,175.6L348.6,175.7L349.1,175.8L349.5,175.9L350,176L350.4,176L350.8,176.1L351.3,176.2L351.7,176.3L352.1,176.4L352.6,176.5L353,176.6L353.5,176.6L353.9,176.7L354.3,176.8L354.8,176.9L355.2,177L355.7,177.2L356.1,177.3L356.5,177.4L357,177.5L357.4,177.6L357.8,177.7L358.3,177.8L358.7,178L359.2,178.1L359.6,178.2L360,178.4L360.5,178.5L360.9,178.6L361.3,178.8L361.8,178.9L362.2,179.1L362.7,179.3L363.1,179.4L363.5,179.6L364,179.8L364.4,179.9L364.8,180.1L365.3,180.3L365.7,180.5L366.2,180.7L366.6,180.9L367,181.1L367.5,181.3L367.9,181.6L368.3,181.8L368.8,182L369.2,182.3L369.7,182.5L370.1,182.8L370.5,183L371,183.3L371.4,183.6L371.8,183.8L372.3,184.1L372.7,184.4L373.2,184.7L373.6,185L374,185.3L374.5,185.6L374.9,185.9L375.3,186.3L375.8,186.6L376.2,186.9L376.7,187.2L377.1,187.6L377.5,187.9L378,188.2L378.4,188.5L378.8,188.9L379.3,189.2L379.7,189.5L380.2,189.8L380.6,190.1L381,190.5L381.5,190.8L381.9,191L382.3,191.3L382.8,191.6L383.2,191.9L383.7,192.1L384.1,192.4L384.5,192.6L385,192.8L385.4,193L385.8,193.2L386.3,193.3L386.7,193.5L387.2,193.6L387.6,193.7L388,193.7L388.5,193.8L388.9,193.8L389.3,193.8L389.8,193.7L390.2,193.7L390.7,193.6L391.1,193.5L391.5,193.3L392,193.1L392.4,192.9L392.8,192.7L393.3,192.4L393.7,192.1L394.2,191.8L394.6,191.4L395,191L395.5,190.6L395.9,190.2L396.3,189.7L396.8,189.1L397.2,188.6L397.7,188L398.1,187.4L398.5,186.8L399,186.1L399.4,185.4L399.8,184.7L400.3,184L400.7,183.2L401.2,182.4L401.6,181.6L402,180.8L402.5,180L402.9,179.1L403.3,178.2L403.8,177.3L404.2,176.4L404.7,175.5L405.1,174.6L405.5,173.6L406,172.7L406.4,171.7L406.8,170.7L407.3,169.8L407.7,168.8L408.2,167.8L408.6,166.8L409,165.8L409.5,164.9L409.9,163.9L410.4,162.9L410.8,161.9L411.2,161L411.7,160L412.1,159.1L412.5,158.1L413,157.2L413.4,156.3L413.9,155.4L414.3,154.5L414.7,153.7L415.2,152.8L415.6,152L416,151.2L416.5,150.4L416.9,149.7L417.4,148.9L417.8,148.2L418.2,147.5L418.7,146.9L419.1,146.2L419.5,145.6L420,145.1L420.4,144.5L420.9,144L421.3,143.5L421.7,143L422.2,142.6L422.6,142.2L423,141.9L423.5,141.5L423.9,141.2L424.4,140.9L424.8,140.7L425.2,140.5L425.7,140.3L426.1,140.2L426.5,140.1L427,140L427.4,139.9L427.9,139.9L428.3,139.9L428.7,139.9L429.2,139.9L429.6,140L430,140.1L430.5,140.2L430.9,140.3L431.4,140.5L431.8,140.7L432.2,140.9L432.7,141.1L433.1,141.3L433.5,141.5L434,141.8L434.4,142L434.9,142.3L435.3,142.6L435.7,142.9L436.2,143.2L436.6,143.5L437,143.8L437.5,144.1L437.9,144.5L438.4,144.8L438.8,145.1L439.2,145.4L439.7,145.8L440.1,146.1L440.5,146.4L441,146.8L441.4,147.1L441.9,147.4L442.3,147.7L442.7,148L443.2,148.3L443.6,148.6L444,148.9L444.5,149.2L444.9,149.5L445.4,149.8L445.8,150.1L446.2,150.4L446.7,150.6L447.1,150.9L447.5,151.1L448,151.4L448.4,151.6L448.9,151.9L449.3,152.1L449.7,152.3L450.2,152.5L450.6,152.7L451,152.9L451.5,153.1L451.9,153.3L452.4,153.5L452.8,153.7L453.2,153.9L453.7,154.1L454.1,154.2L454.5,154.4L455,154.6L455.4,154.7L455.9,154.9L456.3,155L456.7,155.2L457.2,155.3L457.6,155.4L458,155.6L458.5,155.7L458.9,155.8L459.4,155.9L459.8,156.1L460.2,156.2L460.7,156.3L461.1,156.4L461.5,156.5L462,156.6L462.4,156.7L462.9,156.8L463.3,156.9L463.7,157L464.2,157.1L464.6,157.2L465.1,157.3L465.5,157.4L465.9,157.4L466.4,157.5L466.8,157.6L467.2,157.7L467.7,157.8L468.1,157.9L468.6,157.9L469,158L469.4,158.1L469.9,158.1L470.3,158.2L470.7,158.3L471.2,158.4L471.6,158.4L472.1,158.5L472.5,158.6L472.9,158.6L473.4,158.7L473.8,158.7L474.2,158.8L474.7,158.9L475.1,158.9L475.6,159L476,159L476.4,159.1L476.9,159.1L477.3,159.2L477.7,159.3L478.2,159.3L478.6,159.4L479.1,159.4L479.5,159.5L479.9,159.5L480.4,159.6L480.8,159.6L481.2,159.7L481.7,159.7L482.1,159.7L482.6,159.8L483,159.8L483.4,159.9L483.9,159.9L484.3,160L484.7,160L485.2,160.1L485.6,160.1L486.1,160.1L486.5,160.2L486.9,160.2L487.4,160.3L487.8,160.3L488.2,160.3L488.7,160.4L489.1,160.4L489.6,160.4L490,160.5L490.4,160.5L490.9,160.6L491.3,160.6L491.7,160.6L492.2,160.7L492.6,160.7L493.1,160.7L493.5,160.8L493.9,160.8L494.4,160.8L494.8,160.9L495.2,160.9L495.7,160.9L496.1,161L496.6,161L497,161L497.4,161L497.9,161.1L498.3,161.1L498.7,161.1L499.2,161.2L499.6,161.2L500.1,161.2L500.5,161.3L500.9,161.3L501.4,161.3L501.8,161.3L502.2,161.4L502.7,161.4L503.1,161.4L503.6,161.4L504,161.5L504.4,161.5L504.9,161.5L505.3,161.5L505.7,161.6L506.2,161.6L506.6,161.6L507.1,161.6L507.5,161.7L507.9,161.7L508.4,161.7L508.8,161.7L509.2,161.8L509.7,161.8L510.1,161.8L510.6,161.8L511,161.8L511.4,161.9L511.9,161.9L512.3,161.9L512.7,161.9L513.2,162L513.6,162L514.1,162L514.5,162L514.9,162L515.4,162.1L515.8,162.1L516.2,162.1L516.7,162.1L517.1,162.1L517.6,162.2L518,162.2" stroke="#D95319" stroke-width="1.5"/>
<path d="M299.2,171.4L299.6,171.5L300.1,171.5L300.5,171.5L301,171.5L301.4,171.5L301.8,171.6L302.3,171.6L302.7,171.6L303.1,171.6L303.6,171.6L304,171.7L304.5,171.7L304.9,171.7L305.3,171.7L305.8,171.7L306.2,171.8L306.6,171.8L307.1,171.8L307.5,171.8L308,171.9L308.4,171.9L308.8,171.9L309.3,171.9L309.7,172L310.1,172L310.6,172L311,172L311.5,172L311.9,172.1L312.3,172.1L312.8,172.1L313.2,172.1L313.6,172.2L314.1,172.2L314.5,172.2L315,172.2L315.4,172.3L315.8,172.3L316.3,172.3L316.7,172.4L317.1,172.4L317.6,172.4L318,172.4L318.5,172.5L318.9,172.5L319.3,172.5L319.8,172.6L320.2,172.6L320.6,172.6L321.1,172.6L321.5,172.7L322,172.7L322.4,172.7L322.8,172.8L323.3,172.8L323.7,172.8L324.1,172.9L324.6,172.9L325,172.9L325.5,173L325.9,173L326.3,173L326.8,173.1L327.2,173.1L327.6,173.1L328.1,173.2L328.5,173.2L329,173.2L329.4,173.3L329.8,173.3L330.3,173.4L330.7,173.4L331.1,173.4L331.6,173.5L332,173.5L332.5,173.6L332.9,173.6L333.3,173.6L333.8,173.7L334.2,173.7L334.6,173.8L335.1,173.8L335.5,173.9L336,173.9L336.4,173.9L336.8,174L337.3,174L337.7,174.1L338.1,174.1L338.6,174.2L339,174.2L339.5,174.3L339.9,174.3L340.3,174.4L340.8,174.4L341.2,174.5L341.6,174.5L342.1,174.6L342.5,174.7L343,174.7L343.4,174.8L343.8,174.8L344.3,174.9L344.7,174.9L345.1,175L345.6,175.1L346,175.1L346.5,175.2L346.9,175.3L347.3,175.3L347.8,175.4L348.2,175.5L348.6,175.5L349.1,175.6L349.5,175.7L350,175.7L350.4,175.8L350.8,175.9L351.3,176L351.7,176L352.1,176.1L352.6,176.2L353,176.3L353.5,176.4L353.9,176.5L354.3,176.6L354.8,176.6L355.2,176.7L355.7,176.8L356.1,176.9L356.5,177L357,177.1L357.4,177.2L357.8,177.3L358.3,177.4L358.7,177.5L359.2,177.7L359.6,177.8L360,177.9L360.5,178L360.9,178.1L361.3,178.3L361.8,178.4L362.2,178.5L362.7,178.7L363.1,178.8L363.5,178.9L364,179.1L364.4,179.2L364.8,179.4L365.3,179.6L365.7,179.7L366.2,179.9L366.6,180.1L367,180.2L367.5,180.4L367.9,180.6L368.3,180.8L368.8,181L369.2,181.2L369.7,181.5L370.1,181.7L370.5,181.9L371,182.1L371.4,182.4L371.8,182.6L372.3,182.9L372.7,183.2L373.2,183.5L373.6,183.7L374,184L374.5,184.3L374.9,184.7L375.3,185L375.8,185.3L376.2,185.6L376.7,186L377.1,186.4L377.5,186.7L378,187.1L378.4,187.5L378.8,187.9L379.3,188.3L379.7,188.7L380.2,189.1L380.6,189.5L381,190L381.5,190.4L381.9,190.8L382.3,191.3L382.8,191.7L383.2,192.2L383.7,192.6L384.1,193.1L384.5,193.5L385,193.9L385.4,194.4L385.8,194.8L386.3,195.2L386.7,195.6L387.2,196L387.6,196.4L388,196.8L388.5,197.1L388.9,197.5L389.3,197.8L389.8,198L390.2,198.3L390.7,198.5L391.1,198.7L391.5,198.9L392,199L392.4,199.1L392.8,199.1L393.3,199.1L393.7,199.1L394.2,199L394.6,198.8L395,198.7L395.5,198.4L395.9,198.1L396.3,197.8L396.8,197.3L397.2,196.9L397.7,196.3L398.1,195.8L398.5,195.1L399,194.4L399.4,193.6L399.8,192.8L400.3,191.9L400.7,191L401.2,190L401.6,189L402,187.9L402.5,186.7L402.9,185.5L403.3,184.3L403.8,183L404.2,181.7L404.7,180.3L405.1,178.9L405.5,177.4L406,176L406.4,174.5L406.8,173L407.3,171.5L407.7,169.9L408.2,168.4L408.6,166.8L409,165.3L409.5,163.7L409.9,162.2L410.4,160.7L410.8,159.2L411.2,157.7L411.7,156.2L412.1,154.8L412.5,153.4L413,152L413.4,150.7L413.9,149.4L414.3,148.1L414.7,146.9L415.2,145.8L415.6,144.7L416,143.6L416.5,142.6L416.9,141.7L417.4,140.8L417.8,140L418.2,139.2L418.7,138.5L419.1,137.9L419.5,137.3L420,136.8L420.4,136.3L420.9,135.9L421.3,135.5L421.7,135.2L422.2,135L422.6,134.8L423,134.7L423.5,134.6L423.9,134.5L424.4,134.5L424.8,134.6L425.2,134.6L425.7,134.8L426.1,134.9L426.5,135.1L427,135.3L427.4,135.6L427.9,135.9L428.3,136.2L428.7,136.5L429.2,136.9L429.6,137.2L430,137.6L430.5,138L430.9,138.4L431.4,138.8L431.8,139.3L432.2,139.7L432.7,140.1L433.1,140.6L433.5,141L434,141.5L434.4,141.9L434.9,142.4L435.3,142.8L435.7,143.3L436.2,143.7L436.6,144.1L437,144.5L437.5,145L437.9,145.4L438.4,145.8L438.8,146.2L439.2,146.5L439.7,146.9L440.1,147.3L440.5,147.7L441,148L441.4,148.3L441.9,148.7L442.3,149L442.7,149.3L443.2,149.6L443.6,149.9L444,150.2L444.5,150.5L444.9,150.7L445.4,151L445.8,151.3L446.2,151.5L446.7,151.7L447.1,152L447.5,152.2L448,152.4L448.4,152.6L448.9,152.8L449.3,153L449.7,153.2L450.2,153.4L450.6,153.6L451,153.8L451.5,153.9L451.9,154.1L452.4,154.3L452.8,154.4L453.2,154.6L453.7,154.7L454.1,154.9L454.5,155L455,155.1L455.4,155.3L455.9,155.4L456.3,155.5L456.7,155.6L457.2,155.8L457.6,155.9L458,156L458.5,156.1L458.9,156.2L459.4,156.3L459.8,156.4L460.2,156.5L460.7,156.6L461.1,156.7L461.5,156.8L462,156.9L462.4,157L462.9,157.1L463.3,157.2L463.7,157.3L464.2,157.4L464.6,157.4L465.1,157.5L465.5,157.6L465.9,157.7L466.4,157.8L466.8,157.8L467.2,157.9L467.7,158L468.1,158.1L468.6,158.1L469,158.2L469.4,158.3L469.9,158.3L470.3,158.4L470.7,158.5L471.2,158.5L471.6,158.6L472.1,158.6L472.5,158.7L472.9,158.8L473.4,158.8L473.8,158.9L474.2,158.9L474.7,159L475.1,159.1L475.6,159.1L476,159.2L476.4,159.2L476.9,159.3L477.3,159.3L477.7,159.4L478.2,159.4L478.6,159.5L479.1,159.5L479.5,159.6L479.9,159.6L480.4,159.7L480.8,159.7L481.2,159.8L481.7,159.8L482.1,159.8L482.6,159.9L483,159.9L483.4,160L483.9,160L484.3,160.1L484.7,160.1L485.2,160.1L485.6,160.2L486.1,160.2L486.5,160.3L486.9,160.3L487.4,160.3L487.8,160.4L488.2,160.4L488.7,160.4L489.1,160.5L489.6,160.5L490,160.5L490.4,160.6L490.9,160.6L491.3,160.7L491.7,160.7L492.2,160.7L492.6,160.8L493.1,160.8L493.5,160.8L493.9,160.9L494.4,160.9L494.8,160.9L495.2,160.9L495.7,161L496.1,161L496.6,161L497,161.1L497.4,161.1L497.9,161.1L498.3,161.2L498.7,161.2L499.2,161.2L499.6,161.2L500.1,161.3L500.5,161.3L500.9,161.3L501.4,161.3L501.8,161.4L502.2,161.4L502.7,161.4L503.1,161.5L503.6,161.5L504,161.5L504.4,161.5L504.9,161.6L505.3,161.6L505.7,161.6L506.2,161.6L506.6,161.7L507.1,161.7L507.5,161.7L507.9,161.7L508.4,161.7L508.8,161.8L509.2,161.8L509.7,161.8L510.1,161.8L510.6,161.9L511,161.9L511.4,161.9L511.9,161.9L512.3,161.9L512.7,162L513.2,162L513.6,162L514.1,162L514.5,162L514.9,162.1L515.4,162.1L515.8,162.1L516.2,162.1L516.7,162.1L517.1,162.2L517.6,162.2L518,162.2" stroke="#EDB120" stroke-width="1.5"/>
<path d="M299.2,171.4L299.6,171.5L300.1,171.5L300.5,171.5L301,171.5L301.4,171.5L301.8,171.6L302.3,171.6L302.7,171.6L303.1,171.6L303.6,171.6L304,171.7L304.5,171.7L304.9,171.7L305.3,171.7L305.8,171.7L306.2,171.8L306.6,171.8L307.1,171.8L307.5,171.8L308,171.9L308.4,171.9L308.8,171.9L309.3,171.9L309.7,171.9L310.1,172L310.6,172L311,172L311.5,172L311.9,172.1L312.3,172.1L312.8,172.1L313.2,172.1L313.6,172.2L314.1,172.2L314.5,172.2L315,172.2L315.4,172.3L315.8,172.3L316.3,172.3L316.7,172.3L317.1,172.4L317.6,172.4L318,172.4L318.5,172.5L318.9,172.5L319.3,172.5L319.8,172.5L320.2,172.6L320.6,172.6L321.1,172.6L321.5,172.7L322,172.7L322.4,172.7L322.8,172.8L323.3,172.8L323.7,172.8L324.1,172.8L324.6,172.9L325,172.9L325.5,172.9L325.9,173L326.3,173L326.8,173L327.2,173.1L327.6,173.1L328.1,173.2L328.5,173.2L329,173.2L329.4,173.3L329.8,173.3L330.3,173.3L330.7,173.4L331.1,173.4L331.6,173.5L332,173.5L332.5,173.5L332.9,173.6L333.3,173.6L333.8,173.7L334.2,173.7L334.6,173.7L335.1,173.8L335.5,173.8L336,173.9L336.4,173.9L336.8,174L337.3,174L337.7,174.1L338.1,174.1L338.6,174.2L339,174.2L339.5,174.3L339.9,174.3L340.3,174.4L340.8,174.4L341.2,174.5L341.6,174.5L342.1,174.6L342.5,174.6L343,174.7L343.4,174.7L343.8,174.8L344.3,174.8L344.7,174.9L345.1,175L345.6,175L346,175.1L346.5,175.2L346.9,175.2L347.3,175.3L347.8,175.3L348.2,175.4L348.6,175.5L349.1,175.6L349.5,175.6L350,175.7L350.4,175.8L350.8,175.8L351.3,175.9L351.7,176L352.1,176.1L352.6,176.2L353,176.2L353.5,176.3L353.9,176.4L354.3,176.5L354.8,176.6L355.2,176.7L355.7,176.8L356.1,176.8L356.5,176.9L357,177L357.4,177.1L357.8,177.2L358.3,177.3L358.7,177.4L359.2,177.6L359.6,177.7L360,177.8L360.5,177.9L360.9,178L361.3,178.1L361.8,178.3L362.2,178.4L362.7,178.5L363.1,178.7L363.5,178.8L364,178.9L364.4,179.1L364.8,179.2L365.3,179.4L365.7,179.5L366.2,179.7L366.6,179.9L367,180L367.5,180.2L367.9,180.4L368.3,180.6L368.8,180.8L369.2,181L369.7,181.2L370.1,181.4L370.5,181.6L371,181.9L371.4,182.1L371.8,182.3L372.3,182.6L372.7,182.8L373.2,183.1L373.6,183.4L374,183.7L374.5,184L374.9,184.3L375.3,184.6L375.8,184.9L376.2,185.2L376.7,185.6L377.1,186L377.5,186.3L378,186.7L378.4,187.1L378.8,187.5L379.3,187.9L379.7,188.3L380.2,188.7L380.6,189.2L381,189.6L381.5,190.1L381.9,190.6L382.3,191L382.8,191.5L383.2,192L383.7,192.5L384.1,193L384.5,193.5L385,194L385.4,194.5L385.8,195L386.3,195.5L386.7,196L387.2,196.4L387.6,196.9L388,197.4L388.5,197.8L388.9,198.2L389.3,198.6L389.8,199L390.2,199.4L390.7,199.7L391.1,200L391.5,200.3L392,200.5L392.4,200.7L392.8,200.9L393.3,201L393.7,201L394.2,201L394.6,201L395,200.9L395.5,200.7L395.9,200.5L396.3,200.2L396.8,199.9L397.2,199.5L397.7,199L398.1,198.4L398.5,197.8L399,197.1L399.4,196.3L399.8,195.5L400.3,194.6L400.7,193.6L401.2,192.6L401.6,191.5L402,190.3L402.5,189L402.9,187.7L403.3,186.4L403.8,184.9L404.2,183.5L404.7,182L405.1,180.4L405.5,178.8L406,177.1L406.4,175.5L406.8,173.8L407.3,172.1L407.7,170.3L408.2,168.6L408.6,166.8L409,165.1L409.5,163.3L409.9,161.6L410.4,159.9L410.8,158.2L411.2,156.5L411.7,154.9L412.1,153.3L412.5,151.7L413,150.2L413.4,148.7L413.9,147.3L414.3,145.9L414.7,144.6L415.2,143.4L415.6,142.2L416,141.1L416.5,140L416.9,139L417.4,138.1L417.8,137.3L418.2,136.5L418.7,135.8L419.1,135.2L419.5,134.7L420,134.2L420.4,133.8L420.9,133.4L421.3,133.1L421.7,132.9L422.2,132.8L422.6,132.6L423,132.6L423.5,132.6L423.9,132.7L424.4,132.8L424.8,132.9L425.2,133.1L425.7,133.4L426.1,133.6L426.5,133.9L427,134.3L427.4,134.6L427.9,135L428.3,135.4L428.7,135.8L429.2,136.3L429.6,136.7L430,137.2L430.5,137.7L430.9,138.2L431.4,138.7L431.8,139.2L432.2,139.7L432.7,140.2L433.1,140.7L433.5,141.2L434,141.6L434.4,142.1L434.9,142.6L435.3,143.1L435.7,143.6L436.2,144L436.6,144.5L437,144.9L437.5,145.3L437.9,145.8L438.4,146.2L438.8,146.6L439.2,147L439.7,147.3L440.1,147.7L440.5,148.1L441,148.4L441.4,148.7L441.9,149.1L442.3,149.4L442.7,149.7L443.2,150L443.6,150.3L444,150.5L444.5,150.8L444.9,151.1L445.4,151.3L445.8,151.6L446.2,151.8L446.7,152L447.1,152.2L447.5,152.5L448,152.7L448.4,152.9L448.9,153.1L449.3,153.3L449.7,153.4L450.2,153.6L450.6,153.8L451,154L451.5,154.1L451.9,154.3L452.4,154.4L452.8,154.6L453.2,154.7L453.7,154.9L454.1,155L454.5,155.1L455,155.3L455.4,155.4L455.9,155.5L456.3,155.6L456.7,155.8L457.2,155.9L457.6,156L458,156.1L458.5,156.2L458.9,156.3L459.4,156.4L459.8,156.5L460.2,156.6L460.7,156.7L461.1,156.8L461.5,156.9L462,157L462.4,157.1L462.9,157.2L463.3,157.3L463.7,157.3L464.2,157.4L464.6,157.5L465.1,157.6L465.5,157.7L465.9,157.7L466.4,157.8L466.8,157.9L467.2,158L467.7,158L468.1,158.1L468.6,158.2L469,158.2L469.4,158.3L469.9,158.4L470.3,158.4L470.7,158.5L471.2,158.6L471.6,158.6L472.1,158.7L472.5,158.7L472.9,158.8L473.4,158.9L473.8,158.9L474.2,159L474.7,159L475.1,159.1L475.6,159.1L476,159.2L476.4,159.2L476.9,159.3L477.3,159.3L477.7,159.4L478.2,159.4L478.6,159.5L479.1,159.5L479.5,159.6L479.9,159.6L480.4,159.7L480.8,159.7L481.2,159.8L481.7,159.8L482.1,159.9L482.6,159.9L483,159.9L483.4,160L483.9,160L484.3,160.1L484.7,160.1L485.2,160.2L485.6,160.2L486.1,160.2L486.5,160.3L486.9,160.3L487.4,160.3L487.8,160.4L488.2,160.4L488.7,160.5L489.1,160.5L489.6,160.5L490,160.6L490.4,160.6L490.9,160.6L491.3,160.7L491.7,160.7L492.2,160.7L492.6,160.8L493.1,160.8L493.5,160.8L493.9,160.9L494.4,160.9L494.8,160.9L495.2,161L495.7,161L496.1,161L496.6,161L497,161.1L497.4,161.1L497.9,161.1L498.3,161.2L498.7,161.2L499.2,161.2L499.6,161.3L500.1,161.3L500.5,161.3L500.9,161.3L501.4,161.4L501.8,161.4L502.2,161.4L502.7,161.4L503.1,161.5L503.6,161.5L504,161.5L504.4,161.5L504.9,161.6L505.3,161.6L505.7,161.6L506.2,161.6L506.6,161.7L507.1,161.7L507.5,161.7L507.9,161.7L508.4,161.8L508.8,161.8L509.2,161.8L509.7,161.8L510.1,161.8L510.6,161.9L511,161.9L511.4,161.9L511.9,161.9L512.3,162L512.7,162L513.2,162L513.6,162L514.1,162L514.5,162.1L514.9,162.1L515.4,162.1L515.8,162.1L516.2,162.1L516.7,162.2L517.1,162.2L517.6,162.2L518,162.2" stroke="#7E2F8E" stroke-width="1.5"/>
<path d="M299.2,171.4L299.6,171.5L300.1,171.5L300.5,171.5L301,171.5L301.4,171.5L301.8,171.6L302.3,171.6L302.7,171.6L303.1,171.6L303.6,171.6L304,171.7L304.5,171.7L304.9,171.7L305.3,171.7L305.8,171.7L306.2,171.8L306.6,171.8L307.1,171.8L307.5,171.8L308,171.8L308.4,171.9L308.8,171.9L309.3,171.9L309.7,171.9L310.1,172L310.6,172L311,172L311.5,172L311.9,172.1L312.3,172.1L312.8,172.1L313.2,172.1L313.6,172.2L314.1,172.2L314.5,172.2L315,172.2L315.4,172.3L315.8,172.3L316.3,172.3L316.7,172.3L317.1,172.4L317.6,172.4L318,172.4L318.5,172.5L318.9,172.5L319.3,172.5L319.8,172.5L320.2,172.6L320.6,172.6L321.1,172.6L321.5,172.7L322,172.7L322.4,172.7L322.8,172.7L323.3,172.8L323.7,172.8L324.1,172.8L324.6,172.9L325,172.9L325.5,172.9L325.9,173L326.3,173L326.8,173L327.2,173.1L327.6,173.1L328.1,173.2L328.5,173.2L329,173.2L329.4,173.3L329.8,173.3L330.3,173.3L330.7,173.4L331.1,173.4L331.6,173.5L332,173.5L332.5,173.5L332.9,173.6L333.3,173.6L333.8,173.7L334.2,173.7L334.6,173.7L335.1,173.8L335.5,173.8L336,173.9L336.4,173.9L336.8,174L337.3,174L337.7,174.1L338.1,174.1L338.6,174.1L339,174.2L339.5,174.2L339.9,174.3L340.3,174.3L340.8,174.4L341.2,174.5L341.6,174.5L342.1,174.6L342.5,174.6L343,174.7L343.4,174.7L343.8,174.8L344.3,174.8L344.7,174.9L345.1,175L345.6,175L346,175.1L346.5,175.1L346.9,175.2L347.3,175.3L347.8,175.3L348.2,175.4L348.6,175.5L349.1,175.5L349.5,175.6L350,175.7L350.4,175.8L350.8,175.8L351.3,175.9L351.7,176L352.1,176.1L352.6,176.1L353,176.2L353.5,176.3L353.9,176.4L354.3,176.5L354.8,176.6L355.2,176.6L355.7,176.7L356.1,176.8L356.5,176.9L357,177L357.4,177.1L357.8,177.2L358.3,177.3L358.7,177.4L359.2,177.5L359.6,177.6L360,177.7L360.5,177.9L360.9,178L361.3,178.1L361.8,178.2L362.2,178.3L362.7,178.5L363.1,178.6L363.5,178.7L364,178.9L364.4,179L364.8,179.2L365.3,179.3L365.7,179.5L366.2,179.6L366.6,179.8L367,180L367.5,180.1L367.9,180.3L368.3,180.5L368.8,180.7L369.2,180.9L369.7,181.1L370.1,181.3L370.5,181.5L371,181.8L371.4,182L371.8,182.2L372.3,182.5L372.7,182.7L373.2,183L373.6,183.3L374,183.5L374.5,183.8L374.9,184.1L375.3,184.5L375.8,184.8L376.2,185.1L376.7,185.5L377.1,185.8L377.5,186.2L378,186.6L378.4,186.9L378.8,187.3L379.3,187.8L379.7,188.2L380.2,188.6L380.6,189.1L381,189.5L381.5,190L381.9,190.4L382.3,190.9L382.8,191.4L383.2,191.9L383.7,192.4L384.1,192.9L384.5,193.5L385,194L385.4,194.5L385.8,195L386.3,195.5L386.7,196L387.2,196.6L387.6,197.1L388,197.5L388.5,198L388.9,198.5L389.3,198.9L389.8,199.3L390.2,199.7L390.7,200.1L391.1,200.5L391.5,200.8L392,201L392.4,201.3L392.8,201.5L393.3,201.6L393.7,201.7L394.2,201.8L394.6,201.7L395,201.7L395.5,201.6L395.9,201.4L396.3,201.1L396.8,200.8L397.2,200.4L397.7,199.9L398.1,199.4L398.5,198.8L399,198.1L399.4,197.3L399.8,196.5L400.3,195.6L400.7,194.6L401.2,193.5L401.6,192.4L402,191.2L402.5,189.9L402.9,188.5L403.3,187.1L403.8,185.7L404.2,184.1L404.7,182.6L405.1,180.9L405.5,179.3L406,177.6L406.4,175.8L406.8,174.1L407.3,172.3L407.7,170.5L408.2,168.7L408.6,166.8L409,165L409.5,163.2L409.9,161.4L410.4,159.6L410.8,157.8L411.2,156.1L411.7,154.4L412.1,152.7L412.5,151.1L413,149.5L413.4,148L413.9,146.5L414.3,145.1L414.7,143.8L415.2,142.5L415.6,141.3L416,140.1L416.5,139.1L416.9,138.1L417.4,137.2L417.8,136.3L418.2,135.6L418.7,134.9L419.1,134.3L419.5,133.7L420,133.3L420.4,132.9L420.9,132.5L421.3,132.3L421.7,132.1L422.2,132L422.6,131.9L423,131.9L423.5,131.9L423.9,132L424.4,132.2L424.8,132.4L425.2,132.6L425.7,132.9L426.1,133.2L426.5,133.5L427,133.9L427.4,134.3L427.9,134.7L428.3,135.2L428.7,135.6L429.2,136.1L429.6,136.6L430,137.1L430.5,137.6L430.9,138.1L431.4,138.6L431.8,139.2L432.2,139.7L432.7,140.2L433.1,140.7L433.5,141.2L434,141.7L434.4,142.2L434.9,142.7L435.3,143.2L435.7,143.7L436.2,144.1L436.6,144.6L437,145L437.5,145.5L437.9,145.9L438.4,146.3L438.8,146.7L439.2,147.1L439.7,147.5L440.1,147.8L440.5,148.2L441,148.5L441.4,148.9L441.9,149.2L442.3,149.5L442.7,149.8L443.2,150.1L443.6,150.4L444,150.7L444.5,150.9L444.9,151.2L445.4,151.4L445.8,151.7L446.2,151.9L446.7,152.1L447.1,152.3L447.5,152.5L448,152.8L448.4,152.9L448.9,153.1L449.3,153.3L449.7,153.5L450.2,153.7L450.6,153.8L451,154L451.5,154.2L451.9,154.3L452.4,154.5L452.8,154.6L453.2,154.8L453.7,154.9L454.1,155L454.5,155.2L455,155.3L455.4,155.4L455.9,155.6L456.3,155.7L456.7,155.8L457.2,155.9L457.6,156L458,156.1L458.5,156.2L458.9,156.3L459.4,156.4L459.8,156.5L460.2,156.6L460.7,156.7L461.1,156.8L461.5,156.9L462,157L462.4,157.1L462.9,157.2L463.3,157.3L463.7,157.4L464.2,157.4L464.6,157.5L465.1,157.6L465.5,157.7L465.9,157.8L466.4,157.8L466.8,157.9L467.2,158L467.7,158L468.1,158.1L468.6,158.2L469,158.2L469.4,158.3L469.9,158.4L470.3,158.4L470.7,158.5L471.2,158.6L471.6,158.6L472.1,158.7L472.5,158.8L472.9,158.8L473.4,158.9L473.8,158.9L474.2,159L474.7,159L475.1,159.1L475.6,159.1L476,159.2L476.4,159.3L476.9,159.3L477.3,159.4L477.7,159.4L478.2,159.5L478.6,159.5L479.1,159.5L479.5,159.6L479.9,159.6L480.4,159.7L480.8,159.7L481.2,159.8L481.7,159.8L482.1,159.9L482.6,159.9L483,160L483.4,160L483.9,160L484.3,160.1L484.7,160.1L485.2,160.2L485.6,160.2L486.1,160.2L486.5,160.3L486.9,160.3L487.4,160.4L487.8,160.4L488.2,160.4L488.7,160.5L489.1,160.5L489.6,160.5L490,160.6L490.4,160.6L490.9,160.6L491.3,160.7L491.7,160.7L492.2,160.7L492.6,160.8L493.1,160.8L493.5,160.8L493.9,160.9L494.4,160.9L494.8,160.9L495.2,161L495.7,161L496.1,161L496.6,161.1L497,161.1L497.4,161.1L497.9,161.1L498.3,161.2L498.7,161.2L499.2,161.2L499.6,161.3L500.1,161.3L500.5,161.3L500.9,161.3L501.4,161.4L501.8,161.4L502.2,161.4L502.7,161.4L503.1,161.5L503.6,161.5L504,161.5L504.4,161.5L504.9,161.6L505.3,161.6L505.7,161.6L506.2,161.6L506.6,161.7L507.1,161.7L507.5,161.7L507.9,161.7L508.4,161.8L508.8,161.8L509.2,161.8L509.7,161.8L510.1,161.8L510.6,161.9L511,161.9L511.4,161.9L511.9,161.9L512.3,162L512.7,162L513.2,162L513.6,162L514.1,162L514.5,162.1L514.9,162.1L515.4,162.1L515.8,162.1L516.2,162.1L516.7,162.2L517.1,162.2L517.6,162.2L518,162.2" stroke="#000" stroke-width="2.75"/>
</g>
<rect x="34.0" y="22.9" width="218.80" height="82.20" fill="none" stroke="#0a0a0a" stroke-width="1.55"/>
<path d="M88.70,105.1v-3.1M88.70,22.9v3.1M143.40,105.1v-3.1M143.40,22.9v3.1M198.10,105.1v-3.1M198.10,22.9v3.1M34.0,67.74h3.1M252.8,67.74h-3.1M34.0,30.37h3.1M252.8,30.37h-3.1" stroke="#0a0a0a" stroke-width="1.4" fill="none"/>
<rect x="299.2" y="22.9" width="218.80" height="82.20" fill="none" stroke="#0a0a0a" stroke-width="1.55"/>
<path d="M353.90,105.1v-3.1M353.90,22.9v3.1M408.60,105.1v-3.1M408.60,22.9v3.1M463.30,105.1v-3.1M463.30,22.9v3.1M299.2,72.22h3.1M518.0,72.22h-3.1M299.2,39.34h3.1M518.0,39.34h-3.1" stroke="#0a0a0a" stroke-width="1.4" fill="none"/>
<rect x="34.0" y="125.6" width="218.80" height="82.45" fill="none" stroke="#0a0a0a" stroke-width="1.55"/>
<path d="M88.70,208.05v-3.1M88.70,125.6v3.1M143.40,208.05v-3.1M143.40,125.6v3.1M198.10,208.05v-3.1M198.10,125.6v3.1M34.0,202.67h3.1M252.8,202.67h-3.1M34.0,166.82h3.1M252.8,166.82h-3.1M34.0,130.98h3.1M252.8,130.98h-3.1" stroke="#0a0a0a" stroke-width="1.4" fill="none"/>
<rect x="299.2" y="125.6" width="218.80" height="82.45" fill="none" stroke="#0a0a0a" stroke-width="1.55"/>
<path d="M353.90,208.05v-3.1M353.90,125.6v3.1M408.60,208.05v-3.1M408.60,125.6v3.1M463.30,208.05v-3.1M463.30,125.6v3.1M299.2,195.51h3.1M518.0,195.51h-3.1M299.2,166.82h3.1M518.0,166.82h-3.1M299.2,138.14h3.1M518.0,138.14h-3.1" stroke="#0a0a0a" stroke-width="1.4" fill="none"/>
<g fill="#000">
<text transform="translate(233.02,13.94) scale(0.900,0.995)" font-size="16">(</text>
<text transform="translate(237.88,13.90) scale(1.120,1.000)" font-size="14.5" font-style="italic">a</text>
<text transform="translate(245.82,13.94) scale(0.752,0.995)" font-size="16">)</text>
<text transform="translate(254.53,13.90) scale(1.011,1.000)" font-size="15" font-style="italic">Pe</text>
<text transform="translate(270.78,15.70) scale(0.993,1.000)" font-size="10.5" font-style="italic">s</text>
<text transform="translate(292.82,13.90) scale(0.944,1.000)" font-size="14.0">1</text>
<text transform="translate(299.90,17.05) scale(0.991,1.012)" font-size="21">/</text>
<text transform="translate(305.66,13.90) scale(0.958,1.000)" font-size="14.0">50</text>
<text transform="translate(65.10,37.48) scale(1.126,0.968)" font-size="13.5" font-style="italic">t</text>
<text transform="translate(65.10,51.63) scale(1.126,0.968)" font-size="13.5" font-style="italic">t</text>
<text transform="translate(65.10,65.78) scale(1.126,0.968)" font-size="13.5" font-style="italic">t</text>
<text transform="translate(65.10,79.93) scale(1.126,0.968)" font-size="13.5" font-style="italic">t</text>
<text transform="translate(84.39,37.50) scale(1.081,1.000)" font-size="10.8">0</text>
<text transform="translate(85.20,51.65) scale(1.044,1.000)" font-size="11.5" font-style="italic">Pe</text>
<text transform="translate(98.17,53.15) scale(1.046,0.800)" font-size="9.3" font-style="italic">s</text>
<text transform="translate(85.20,65.80) scale(1.044,1.000)" font-size="11.5" font-style="italic">Pe</text>
<text transform="translate(98.17,67.30) scale(1.046,0.800)" font-size="9.3" font-style="italic">s</text>
<text transform="translate(102.50,54.02) scale(1.200,1.009)" font-size="16.5">/</text>
<text transform="translate(108.25,51.65) scale(1.000,1.000)" font-size="10.8">4</text>
<text transform="translate(84.44,79.95) scale(1.060,1.000)" font-size="10.8">4</text>
<text transform="translate(89.95,79.95) scale(1.065,1.000)" font-size="11.5" font-style="italic">Pe</text>
<text transform="translate(103.16,81.45) scale(1.138,0.800)" font-size="9.3" font-style="italic">s</text>
<text transform="translate(13.83,69.00) scale(1.027,1.000)" font-size="15.3" font-style="italic">Γ</text>
<text transform="translate(8.16,168.98) scale(1.120,0.943)" font-size="15" font-style="italic">u</text>
<text transform="translate(16.37,170.90) scale(1.021,1.000)" font-size="10.5" font-style="italic">s</text>
<text transform="translate(269.09,61.00) scale(1.042,1.000)" font-size="15.3" font-style="italic">C</text>
<text transform="translate(264.42,74.90) scale(0.992,1.000)" font-size="15" font-style="italic">Pe</text>
<text transform="translate(280.27,76.70) scale(1.048,1.000)" font-size="10.5" font-style="italic">s</text>
<text transform="translate(268.40,163.60) scale(0.943,1.000)" font-size="15.3" font-style="italic">U</text>
<text transform="translate(264.42,177.70) scale(0.992,1.000)" font-size="15" font-style="italic">Pe</text>
<text transform="translate(280.27,179.50) scale(1.048,1.000)" font-size="10.5" font-style="italic">s</text>
<text transform="translate(404.56,234.80) scale(1.088,1.000)" font-size="15" font-style="italic">η</text>
<text transform="translate(309.61,141.75) scale(1.055,1.000)" font-size="11.2">Similarity</text>
<text transform="translate(360.77,141.75) scale(1.052,1.000)" font-size="11.2">solution</text>
<text transform="translate(32.81,117.20) scale(0.928,1.000)" font-size="12">10</text>
<text transform="translate(90.09,117.20) scale(0.924,1.000)" font-size="12">5</text>
<text transform="translate(140.74,117.20) scale(0.930,1.000)" font-size="12">0</text>
<text transform="translate(195.21,117.20) scale(0.924,1.000)" font-size="12">5</text>
<text transform="translate(247.33,117.20) scale(0.928,1.000)" font-size="12">10</text>
<text transform="translate(26.48,107.80) scale(0.930,1.000)" font-size="12">0</text>
<text transform="translate(26.50,32.87) scale(0.864,1.000)" font-size="12">1</text>
<text transform="translate(298.01,117.20) scale(0.928,1.000)" font-size="12">10</text>
<text transform="translate(355.29,117.20) scale(0.924,1.000)" font-size="12">5</text>
<text transform="translate(405.94,117.20) scale(0.930,1.000)" font-size="12">0</text>
<text transform="translate(460.41,117.20) scale(0.924,1.000)" font-size="12">5</text>
<text transform="translate(512.53,117.20) scale(0.928,1.000)" font-size="12">10</text>
<text transform="translate(291.84,107.80) scale(0.930,1.000)" font-size="12">0</text>
<text transform="translate(283.28,41.44) scale(0.925,1.000)" font-size="12">0.4</text>
<text transform="translate(32.81,219.70) scale(0.928,1.000)" font-size="12">10</text>
<text transform="translate(90.09,219.70) scale(0.924,1.000)" font-size="12">5</text>
<text transform="translate(140.74,219.70) scale(0.930,1.000)" font-size="12">0</text>
<text transform="translate(195.21,219.70) scale(0.924,1.000)" font-size="12">5</text>
<text transform="translate(247.33,219.70) scale(0.928,1.000)" font-size="12">10</text>
<text transform="translate(26.50,205.97) scale(0.864,1.000)" font-size="12">1</text>
<text transform="translate(26.48,169.52) scale(0.930,1.000)" font-size="12">0</text>
<text transform="translate(26.50,134.88) scale(0.864,1.000)" font-size="12">1</text>
<text transform="translate(298.01,219.70) scale(0.928,1.000)" font-size="12">10</text>
<text transform="translate(355.29,219.70) scale(0.924,1.000)" font-size="12">5</text>
<text transform="translate(405.94,219.70) scale(0.930,1.000)" font-size="12">0</text>
<text transform="translate(460.41,219.70) scale(0.924,1.000)" font-size="12">5</text>
<text transform="translate(512.53,219.70) scale(0.928,1.000)" font-size="12">10</text>
<text transform="translate(283.28,198.21) scale(0.933,1.000)" font-size="12">0.2</text>
<text transform="translate(291.84,169.22) scale(0.930,1.000)" font-size="12">0</text>
<text transform="translate(283.28,140.84) scale(0.933,1.000)" font-size="12">0.2</text>
</g>
<line x1="25.12" y1="114.00" x2="31.82" y2="114.00" stroke="#000" stroke-width="0.7"/>
<line x1="82.57" y1="114.00" x2="89.27" y2="114.00" stroke="#000" stroke-width="0.7"/>
<line x1="290.32" y1="114.00" x2="297.02" y2="114.00" stroke="#000" stroke-width="0.7"/>
<line x1="347.77" y1="114.00" x2="354.47" y2="114.00" stroke="#000" stroke-width="0.7"/>
<line x1="25.12" y1="216.50" x2="31.82" y2="216.50" stroke="#000" stroke-width="0.7"/>
<line x1="82.57" y1="216.50" x2="89.27" y2="216.50" stroke="#000" stroke-width="0.7"/>
<line x1="18.74" y1="202.72" x2="25.44" y2="202.72" stroke="#000" stroke-width="0.7"/>
<line x1="290.32" y1="216.50" x2="297.02" y2="216.50" stroke="#000" stroke-width="0.7"/>
<line x1="347.77" y1="216.50" x2="354.47" y2="216.50" stroke="#000" stroke-width="0.7"/>
<line x1="275.53" y1="195.56" x2="282.23" y2="195.56" stroke="#000" stroke-width="0.7"/>
<line x1="279.10" y1="8.60" x2="289.30" y2="8.60" stroke="#000" stroke-width="0.9"/>
<line x1="279.10" y1="11.60" x2="289.30" y2="11.60" stroke="#000" stroke-width="0.9"/>
<line x1="72.90" y1="33.55" x2="81.00" y2="33.55" stroke="#000" stroke-width="0.65"/>
<line x1="72.90" y1="35.75" x2="81.00" y2="35.75" stroke="#000" stroke-width="0.65"/>
<line x1="72.90" y1="47.70" x2="81.00" y2="47.70" stroke="#000" stroke-width="0.65"/>
<line x1="72.90" y1="49.90" x2="81.00" y2="49.90" stroke="#000" stroke-width="0.65"/>
<line x1="72.90" y1="61.85" x2="81.00" y2="61.85" stroke="#000" stroke-width="0.65"/>
<line x1="72.90" y1="64.05" x2="81.00" y2="64.05" stroke="#000" stroke-width="0.65"/>
<line x1="72.90" y1="76.00" x2="81.00" y2="76.00" stroke="#000" stroke-width="0.65"/>
<line x1="72.90" y1="78.20" x2="81.00" y2="78.20" stroke="#000" stroke-width="0.65"/>
<line x1="263.10" y1="63.45" x2="285.30" y2="63.45" stroke="#000" stroke-width="0.9"/>
<line x1="263.10" y1="166.45" x2="285.30" y2="166.45" stroke="#000" stroke-width="0.9"/>
<g fill="none" stroke="#000" stroke-linecap="round" stroke-linejoin="round"><path d="M140.3,229.9C140.8,228.7 142.0,228.1 142.9,228.5C143.8,228.9 143.9,229.9 143.6,231.0L142.9,233.3C142.6,234.4 141.7,235.0 140.9,234.7" stroke-width="0.75"/><path d="M146.7,229.2C146.3,228.3 145.2,228.2 144.4,229.1C143.9,229.8 143.8,230.4 143.6,231.2L143.0,233.4C142.8,234.4 143.5,235.0 144.5,234.7C145.4,234.4 146.3,233.4 146.7,232.4" stroke-width="0.6"/><path d="M143.9,229.6L142.8,233.6" stroke-width="1.0"/></g><circle cx="140.9" cy="234.0" r="0.65" fill="#000"/><circle cx="146.5" cy="229.4" r="0.65" fill="#000"/>
<line x1="45.2" y1="34.6" x2="59.1" y2="34.6" stroke="#0072BD" stroke-width="1.5"/>
<line x1="45.2" y1="48.65" x2="59.1" y2="48.65" stroke="#D95319" stroke-width="1.5"/>
<line x1="45.2" y1="62.85" x2="59.1" y2="62.85" stroke="#EDB120" stroke-width="1.5"/>
<line x1="45.2" y1="77.0" x2="59.1" y2="77.0" stroke="#7E2F8E" stroke-width="1.5"/>
<line x1="379.7" y1="130.4" x2="419.09" y2="82.53" stroke="#000" stroke-width="0.9"/>
<polygon points="422.20,78.75 420.50,84.99 419.02,82.61 416.40,81.62" fill="#000"/>
<line x1="379.4" y1="144.4" x2="404.98" y2="158.09" stroke="#000" stroke-width="0.9"/>
<polygon points="409.30,160.40 402.85,159.95 404.89,158.04 405.35,155.28" fill="#000"/>
</svg>
</body></html>
